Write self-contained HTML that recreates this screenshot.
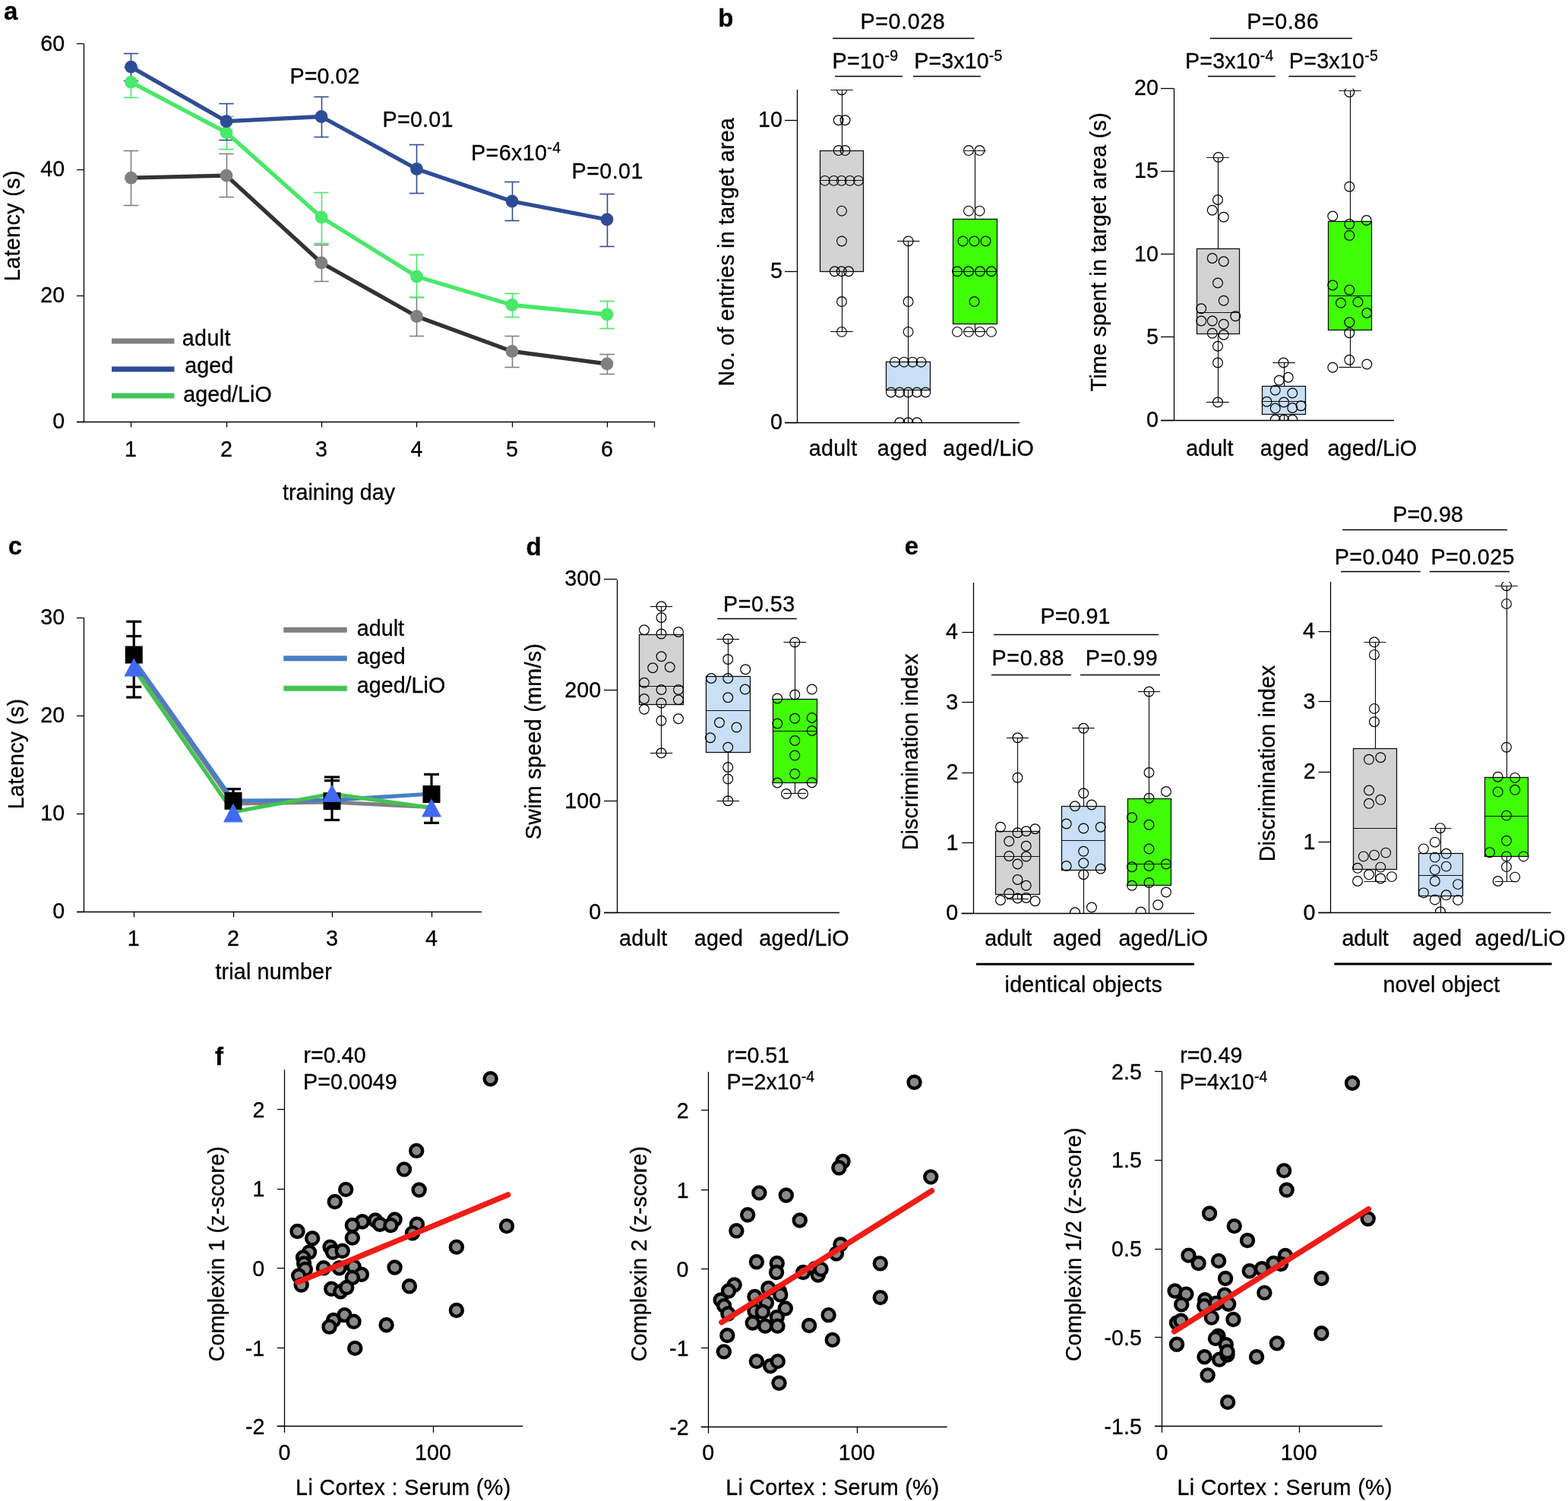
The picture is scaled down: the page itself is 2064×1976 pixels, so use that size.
<!DOCTYPE html>
<html><head><meta charset="utf-8"><title>Figure</title>
<style>
html,body{margin:0;padding:0;background:#fff;}
svg{display:block;}
text{font-family:"Liberation Sans",sans-serif;stroke:#000;stroke-width:0.3px;}
</style></head>
<body>
<svg width="2064" height="1976" viewBox="0 0 2064 1976">
<rect x="0" y="0" width="2064" height="1976" fill="#fff"/>
<text x="4.9" y="25.5" font-size="33" font-weight="bold" fill="#000">a</text>
<text x="945.3" y="34.5" font-size="33" font-weight="bold" fill="#000">b</text>
<text x="10.7" y="730.0" font-size="33" font-weight="bold" fill="#000">c</text>
<text x="692.4" y="730.5" font-size="33" font-weight="bold" fill="#000">d</text>
<text x="1190.7" y="730.0" font-size="33" font-weight="bold" fill="#000">e</text>
<text x="283.0" y="1402.2" font-size="33" font-weight="bold" fill="#000">f</text>
<line x1="110.50" y1="57.50" x2="110.50" y2="555.00" stroke="#000" stroke-width="1.3"/>
<line x1="101.00" y1="57.50" x2="110.00" y2="57.50" stroke="#000" stroke-width="1.3"/>
<text x="53.2" y="66.5" font-size="28.7" fill="#000">60</text>
<line x1="101.00" y1="223.50" x2="110.00" y2="223.50" stroke="#000" stroke-width="1.3"/>
<text x="53.2" y="232.3" font-size="28.7" fill="#000">40</text>
<line x1="101.00" y1="389.50" x2="110.00" y2="389.50" stroke="#000" stroke-width="1.3"/>
<text x="53.2" y="398.2" font-size="28.7" fill="#000">20</text>
<line x1="101.00" y1="555.50" x2="110.00" y2="555.50" stroke="#000" stroke-width="1.3"/>
<text x="69.2" y="564.0" font-size="28.7" fill="#000">0</text>
<line x1="101.00" y1="555.50" x2="861.00" y2="555.50" stroke="#000" stroke-width="1.3"/>
<line x1="172.50" y1="555.00" x2="172.50" y2="562.50" stroke="#000" stroke-width="1.3"/>
<line x1="298.50" y1="555.00" x2="298.50" y2="562.50" stroke="#000" stroke-width="1.3"/>
<line x1="423.50" y1="555.00" x2="423.50" y2="562.50" stroke="#000" stroke-width="1.3"/>
<line x1="548.50" y1="555.00" x2="548.50" y2="562.50" stroke="#000" stroke-width="1.3"/>
<line x1="674.50" y1="555.00" x2="674.50" y2="562.50" stroke="#000" stroke-width="1.3"/>
<line x1="799.50" y1="555.00" x2="799.50" y2="562.50" stroke="#000" stroke-width="1.3"/>
<line x1="861.50" y1="555.00" x2="861.50" y2="562.50" stroke="#000" stroke-width="1.3"/>
<text x="164.1" y="600.5" font-size="28.7" fill="#000">1</text>
<text x="290.1" y="600.5" font-size="28.7" fill="#000">2</text>
<text x="415.1" y="600.5" font-size="28.7" fill="#000">3</text>
<text x="540.6" y="600.5" font-size="28.7" fill="#000">4</text>
<text x="666.0" y="600.5" font-size="28.7" fill="#000">5</text>
<text x="790.9" y="600.5" font-size="28.7" fill="#000">6</text>
<text x="372.1" y="657.5" font-size="28.7" textLength="147.97" lengthAdjust="spacing" fill="#000">training day</text>
<text transform="translate(25.9,367.9) rotate(-90)" x="-2.4" y="0" font-size="28.7" textLength="145.76" lengthAdjust="spacing">Latency (s)</text>
<line x1="172.50" y1="198.20" x2="172.50" y2="270.00" stroke="#808080" stroke-width="1.6"/>
<line x1="162.80" y1="198.50" x2="182.20" y2="198.50" stroke="#808080" stroke-width="1.6"/>
<line x1="162.80" y1="270.50" x2="182.20" y2="270.50" stroke="#808080" stroke-width="1.6"/>
<line x1="298.50" y1="202.30" x2="298.50" y2="259.50" stroke="#808080" stroke-width="1.6"/>
<line x1="288.30" y1="202.50" x2="307.70" y2="202.50" stroke="#808080" stroke-width="1.6"/>
<line x1="288.30" y1="259.50" x2="307.70" y2="259.50" stroke="#808080" stroke-width="1.6"/>
<line x1="423.50" y1="322.50" x2="423.50" y2="370.00" stroke="#808080" stroke-width="1.6"/>
<line x1="413.30" y1="322.50" x2="432.70" y2="322.50" stroke="#808080" stroke-width="1.6"/>
<line x1="413.30" y1="370.50" x2="432.70" y2="370.50" stroke="#808080" stroke-width="1.6"/>
<line x1="548.50" y1="391.50" x2="548.50" y2="442.00" stroke="#808080" stroke-width="1.6"/>
<line x1="538.80" y1="391.50" x2="558.20" y2="391.50" stroke="#808080" stroke-width="1.6"/>
<line x1="538.80" y1="442.50" x2="558.20" y2="442.50" stroke="#808080" stroke-width="1.6"/>
<line x1="674.50" y1="442.00" x2="674.50" y2="483.50" stroke="#808080" stroke-width="1.6"/>
<line x1="664.30" y1="442.50" x2="683.70" y2="442.50" stroke="#808080" stroke-width="1.6"/>
<line x1="664.30" y1="483.50" x2="683.70" y2="483.50" stroke="#808080" stroke-width="1.6"/>
<line x1="799.50" y1="466.00" x2="799.50" y2="492.00" stroke="#808080" stroke-width="1.6"/>
<line x1="789.30" y1="466.50" x2="808.70" y2="466.50" stroke="#808080" stroke-width="1.6"/>
<line x1="789.30" y1="492.50" x2="808.70" y2="492.50" stroke="#808080" stroke-width="1.6"/>
<line x1="172.50" y1="88.00" x2="172.50" y2="128.30" stroke="#48e868" stroke-width="1.6"/>
<line x1="162.80" y1="88.50" x2="182.20" y2="88.50" stroke="#48e868" stroke-width="1.6"/>
<line x1="162.80" y1="128.50" x2="182.20" y2="128.50" stroke="#48e868" stroke-width="1.6"/>
<line x1="298.50" y1="153.40" x2="298.50" y2="196.70" stroke="#48e868" stroke-width="1.6"/>
<line x1="288.30" y1="153.50" x2="307.70" y2="153.50" stroke="#48e868" stroke-width="1.6"/>
<line x1="288.30" y1="196.50" x2="307.70" y2="196.50" stroke="#48e868" stroke-width="1.6"/>
<line x1="423.50" y1="253.50" x2="423.50" y2="320.50" stroke="#48e868" stroke-width="1.6"/>
<line x1="413.30" y1="253.50" x2="432.70" y2="253.50" stroke="#48e868" stroke-width="1.6"/>
<line x1="413.30" y1="320.50" x2="432.70" y2="320.50" stroke="#48e868" stroke-width="1.6"/>
<line x1="548.50" y1="335.00" x2="548.50" y2="391.50" stroke="#48e868" stroke-width="1.6"/>
<line x1="538.80" y1="335.50" x2="558.20" y2="335.50" stroke="#48e868" stroke-width="1.6"/>
<line x1="538.80" y1="391.50" x2="558.20" y2="391.50" stroke="#48e868" stroke-width="1.6"/>
<line x1="674.50" y1="386.50" x2="674.50" y2="417.50" stroke="#48e868" stroke-width="1.6"/>
<line x1="664.30" y1="386.50" x2="683.70" y2="386.50" stroke="#48e868" stroke-width="1.6"/>
<line x1="664.30" y1="417.50" x2="683.70" y2="417.50" stroke="#48e868" stroke-width="1.6"/>
<line x1="799.50" y1="396.50" x2="799.50" y2="432.00" stroke="#48e868" stroke-width="1.6"/>
<line x1="789.30" y1="396.50" x2="808.70" y2="396.50" stroke="#48e868" stroke-width="1.6"/>
<line x1="789.30" y1="432.50" x2="808.70" y2="432.50" stroke="#48e868" stroke-width="1.6"/>
<line x1="172.50" y1="70.30" x2="172.50" y2="106.00" stroke="#2e4c96" stroke-width="1.6"/>
<line x1="162.80" y1="70.50" x2="182.20" y2="70.50" stroke="#2e4c96" stroke-width="1.6"/>
<line x1="162.80" y1="106.50" x2="182.20" y2="106.50" stroke="#2e4c96" stroke-width="1.6"/>
<line x1="298.50" y1="136.40" x2="298.50" y2="184.30" stroke="#2e4c96" stroke-width="1.6"/>
<line x1="288.30" y1="136.50" x2="307.70" y2="136.50" stroke="#2e4c96" stroke-width="1.6"/>
<line x1="288.30" y1="184.50" x2="307.70" y2="184.50" stroke="#2e4c96" stroke-width="1.6"/>
<line x1="423.50" y1="127.50" x2="423.50" y2="180.00" stroke="#2e4c96" stroke-width="1.6"/>
<line x1="413.30" y1="127.50" x2="432.70" y2="127.50" stroke="#2e4c96" stroke-width="1.6"/>
<line x1="413.30" y1="180.50" x2="432.70" y2="180.50" stroke="#2e4c96" stroke-width="1.6"/>
<line x1="548.50" y1="190.50" x2="548.50" y2="254.00" stroke="#2e4c96" stroke-width="1.6"/>
<line x1="538.80" y1="190.50" x2="558.20" y2="190.50" stroke="#2e4c96" stroke-width="1.6"/>
<line x1="538.80" y1="254.50" x2="558.20" y2="254.50" stroke="#2e4c96" stroke-width="1.6"/>
<line x1="674.50" y1="239.50" x2="674.50" y2="290.00" stroke="#2e4c96" stroke-width="1.6"/>
<line x1="664.30" y1="239.50" x2="683.70" y2="239.50" stroke="#2e4c96" stroke-width="1.6"/>
<line x1="664.30" y1="290.50" x2="683.70" y2="290.50" stroke="#2e4c96" stroke-width="1.6"/>
<line x1="799.50" y1="255.50" x2="799.50" y2="324.00" stroke="#2e4c96" stroke-width="1.6"/>
<line x1="789.30" y1="255.50" x2="808.70" y2="255.50" stroke="#2e4c96" stroke-width="1.6"/>
<line x1="789.30" y1="324.50" x2="808.70" y2="324.50" stroke="#2e4c96" stroke-width="1.6"/>
<polyline points="172.5,234.2 298.0,231.1 423.0,346.0 548.5,416.5 674.0,462.5 799.0,479.0" fill="none" stroke="#333333" stroke-width="5.3" stroke-linejoin="round"/>
<polyline points="172.5,108.1 298.0,174.4 423.0,286.0 548.5,364.0 674.0,401.5 799.0,414.0" fill="none" stroke="#48e868" stroke-width="5.3" stroke-linejoin="round"/>
<polyline points="172.5,88.1 298.0,159.7 423.0,153.5 548.5,222.5 674.0,265.0 799.0,289.0" fill="none" stroke="#2e4c96" stroke-width="5.3" stroke-linejoin="round"/>
<circle cx="172.50" cy="234.20" r="8.4" fill="#808080" stroke="none" stroke-width="0"/>
<circle cx="298.00" cy="231.10" r="8.4" fill="#808080" stroke="none" stroke-width="0"/>
<circle cx="423.00" cy="346.00" r="8.4" fill="#808080" stroke="none" stroke-width="0"/>
<circle cx="548.50" cy="416.50" r="8.4" fill="#808080" stroke="none" stroke-width="0"/>
<circle cx="674.00" cy="462.50" r="8.4" fill="#808080" stroke="none" stroke-width="0"/>
<circle cx="799.00" cy="479.00" r="8.4" fill="#808080" stroke="none" stroke-width="0"/>
<circle cx="172.50" cy="108.10" r="8.4" fill="#48e868" stroke="none" stroke-width="0"/>
<circle cx="298.00" cy="174.40" r="8.4" fill="#48e868" stroke="none" stroke-width="0"/>
<circle cx="423.00" cy="286.00" r="8.4" fill="#48e868" stroke="none" stroke-width="0"/>
<circle cx="548.50" cy="364.00" r="8.4" fill="#48e868" stroke="none" stroke-width="0"/>
<circle cx="674.00" cy="401.50" r="8.4" fill="#48e868" stroke="none" stroke-width="0"/>
<circle cx="799.00" cy="414.00" r="8.4" fill="#48e868" stroke="none" stroke-width="0"/>
<circle cx="172.50" cy="88.10" r="8.4" fill="#2e4c96" stroke="none" stroke-width="0"/>
<circle cx="298.00" cy="159.70" r="8.4" fill="#2e4c96" stroke="none" stroke-width="0"/>
<circle cx="423.00" cy="153.50" r="8.4" fill="#2e4c96" stroke="none" stroke-width="0"/>
<circle cx="548.50" cy="222.50" r="8.4" fill="#2e4c96" stroke="none" stroke-width="0"/>
<circle cx="674.00" cy="265.00" r="8.4" fill="#2e4c96" stroke="none" stroke-width="0"/>
<circle cx="799.00" cy="289.00" r="8.4" fill="#2e4c96" stroke="none" stroke-width="0"/>
<line x1="147.00" y1="449.00" x2="229.50" y2="449.00" stroke="#808080" stroke-width="7"/>
<line x1="147.00" y1="486.00" x2="229.50" y2="486.00" stroke="#2e4c96" stroke-width="7"/>
<line x1="147.00" y1="521.00" x2="229.50" y2="521.00" stroke="#44c65a" stroke-width="7"/>
<text x="239.8" y="455.0" font-size="28.7" textLength="63.58" lengthAdjust="spacing" fill="#000">adult</text>
<text x="243.3" y="491.0" font-size="28.7" fill="#000">aged</text>
<text x="241.3" y="529.0" font-size="28.7" fill="#000">aged/LiO</text>
<text x="381.5" y="110.0" font-size="28.7" textLength="92.06" lengthAdjust="spacing" fill="#000">P=0.02</text>
<text x="503.6" y="166.5" font-size="28.7" textLength="92.76" lengthAdjust="spacing" fill="#000">P=0.01</text>
<text x="620.1" y="211.0" font-size="28.7" textLength="117.94" lengthAdjust="spacing">P=6x10<tspan font-size="19.5" dy="-10.0">-4</tspan></text>
<text x="752.6" y="235.0" font-size="28.7" textLength="93.76" lengthAdjust="spacing" fill="#000">P=0.01</text>
<line x1="1049.50" y1="118.00" x2="1049.50" y2="556.25" stroke="#000" stroke-width="1.3"/>
<line x1="1033.00" y1="158.50" x2="1049.50" y2="158.50" stroke="#000" stroke-width="1.3"/>
<text x="998.0" y="167.2" font-size="28.7" fill="#000">10</text>
<line x1="1033.00" y1="357.50" x2="1049.50" y2="357.50" stroke="#000" stroke-width="1.3"/>
<text x="1014.0" y="366.2" font-size="28.7" fill="#000">5</text>
<line x1="1033.00" y1="556.50" x2="1049.50" y2="556.50" stroke="#000" stroke-width="1.3"/>
<text x="1014.0" y="565.2" font-size="28.7" fill="#000">0</text>
<line x1="1033.00" y1="556.50" x2="1342.00" y2="556.50" stroke="#000" stroke-width="1.3"/>
<text x="1064.8" y="600.0" font-size="28.7" textLength="63.33" lengthAdjust="spacing" fill="#000">adult</text>
<text x="1154.8" y="600.0" font-size="28.7" textLength="65.79" lengthAdjust="spacing" fill="#000">aged</text>
<text x="1241.3" y="600.0" font-size="28.7" textLength="119.58" lengthAdjust="spacing" fill="#000">aged/LiO</text>
<text transform="translate(965.5,506.0) rotate(-90)" x="-2.4" y="0" font-size="28.7" textLength="353.17" lengthAdjust="spacing">No. of entries in target area</text>
<text x="1132.6" y="38.0" font-size="28.7" textLength="111.12" lengthAdjust="spacing" fill="#000">P=0.028</text>
<line x1="1096.00" y1="50.50" x2="1282.50" y2="50.50" stroke="#000" stroke-width="1.5"/>
<text x="1095.6" y="89.9" font-size="28.7" textLength="86.54" lengthAdjust="spacing">P=10<tspan font-size="19.5" dy="-10.0">-9</tspan></text>
<line x1="1099.00" y1="100.50" x2="1188.00" y2="100.50" stroke="#000" stroke-width="1.5"/>
<text x="1203.3" y="89.9" font-size="28.7" textLength="115.94" lengthAdjust="spacing">P=3x10<tspan font-size="19.5" dy="-10.0">-5</tspan></text>
<line x1="1202.00" y1="100.50" x2="1291.00" y2="100.50" stroke="#000" stroke-width="1.5"/>
<clipPath id="c1"><rect x="1040" y="118" width="360" height="438.25"/></clipPath>
<g clip-path="url(#c1)">
<line x1="1108.50" y1="118.50" x2="1108.50" y2="198.05" stroke="#111" stroke-width="1.2"/>
<line x1="1108.50" y1="357.25" x2="1108.50" y2="436.85" stroke="#111" stroke-width="1.2"/>
<rect x="1079.50" y="198.50" width="57.00" height="159.00" fill="#d3d3d3" stroke="#111" stroke-width="1.3"/>
<line x1="1079.50" y1="237.50" x2="1136.75" y2="237.50" stroke="#111" stroke-width="1.2"/>
<line x1="1093.25" y1="118.50" x2="1122.75" y2="118.50" stroke="#111" stroke-width="1.2"/>
<line x1="1093.25" y1="436.50" x2="1122.75" y2="436.50" stroke="#111" stroke-width="1.2"/>
<circle cx="1108.00" cy="118.45" r="6.4" fill="none" stroke="#000" stroke-width="1.15"/>
<circle cx="1103.75" cy="158.25" r="6.4" fill="none" stroke="#000" stroke-width="1.15"/>
<circle cx="1112.50" cy="158.25" r="6.4" fill="none" stroke="#000" stroke-width="1.15"/>
<circle cx="1103.75" cy="198.05" r="6.4" fill="none" stroke="#000" stroke-width="1.15"/>
<circle cx="1112.50" cy="198.05" r="6.4" fill="none" stroke="#000" stroke-width="1.15"/>
<circle cx="1085.75" cy="237.85" r="6.4" fill="none" stroke="#000" stroke-width="1.15"/>
<circle cx="1097.50" cy="237.85" r="6.4" fill="none" stroke="#000" stroke-width="1.15"/>
<circle cx="1107.75" cy="237.85" r="6.4" fill="none" stroke="#000" stroke-width="1.15"/>
<circle cx="1118.75" cy="237.85" r="6.4" fill="none" stroke="#000" stroke-width="1.15"/>
<circle cx="1130.00" cy="237.85" r="6.4" fill="none" stroke="#000" stroke-width="1.15"/>
<circle cx="1108.00" cy="277.65" r="6.4" fill="none" stroke="#000" stroke-width="1.15"/>
<circle cx="1108.00" cy="317.45" r="6.4" fill="none" stroke="#000" stroke-width="1.15"/>
<circle cx="1098.75" cy="357.25" r="6.4" fill="none" stroke="#000" stroke-width="1.15"/>
<circle cx="1107.75" cy="357.25" r="6.4" fill="none" stroke="#000" stroke-width="1.15"/>
<circle cx="1117.00" cy="357.25" r="6.4" fill="none" stroke="#000" stroke-width="1.15"/>
<circle cx="1108.00" cy="397.05" r="6.4" fill="none" stroke="#000" stroke-width="1.15"/>
<circle cx="1108.00" cy="436.85" r="6.4" fill="none" stroke="#000" stroke-width="1.15"/>
<line x1="1195.50" y1="317.45" x2="1195.50" y2="476.65" stroke="#111" stroke-width="1.2"/>
<line x1="1195.50" y1="513.75" x2="1195.50" y2="556.25" stroke="#111" stroke-width="1.2"/>
<rect x="1166.50" y="476.50" width="58.00" height="37.00" fill="#c9dff5" stroke="#111" stroke-width="1.3"/>
<line x1="1166.75" y1="513.50" x2="1224.50" y2="513.50" stroke="#111" stroke-width="1.2"/>
<line x1="1180.85" y1="317.50" x2="1210.35" y2="317.50" stroke="#111" stroke-width="1.2"/>
<line x1="1180.85" y1="556.50" x2="1210.35" y2="556.50" stroke="#111" stroke-width="1.2"/>
<circle cx="1195.60" cy="317.45" r="6.4" fill="none" stroke="#000" stroke-width="1.15"/>
<circle cx="1195.60" cy="397.05" r="6.4" fill="none" stroke="#000" stroke-width="1.15"/>
<circle cx="1195.60" cy="436.85" r="6.4" fill="none" stroke="#000" stroke-width="1.15"/>
<circle cx="1178.00" cy="476.65" r="6.4" fill="none" stroke="#000" stroke-width="1.15"/>
<circle cx="1190.00" cy="476.65" r="6.4" fill="none" stroke="#000" stroke-width="1.15"/>
<circle cx="1201.25" cy="476.65" r="6.4" fill="none" stroke="#000" stroke-width="1.15"/>
<circle cx="1212.50" cy="476.65" r="6.4" fill="none" stroke="#000" stroke-width="1.15"/>
<circle cx="1173.00" cy="516.45" r="6.4" fill="none" stroke="#000" stroke-width="1.15"/>
<circle cx="1184.25" cy="516.45" r="6.4" fill="none" stroke="#000" stroke-width="1.15"/>
<circle cx="1195.50" cy="516.45" r="6.4" fill="none" stroke="#000" stroke-width="1.15"/>
<circle cx="1207.00" cy="516.45" r="6.4" fill="none" stroke="#000" stroke-width="1.15"/>
<circle cx="1218.25" cy="516.45" r="6.4" fill="none" stroke="#000" stroke-width="1.15"/>
<circle cx="1184.25" cy="556.25" r="6.4" fill="none" stroke="#000" stroke-width="1.15"/>
<circle cx="1195.50" cy="556.25" r="6.4" fill="none" stroke="#000" stroke-width="1.15"/>
<circle cx="1207.00" cy="556.25" r="6.4" fill="none" stroke="#000" stroke-width="1.15"/>
<line x1="1283.50" y1="198.05" x2="1283.50" y2="288.25" stroke="#111" stroke-width="1.2"/>
<line x1="1283.50" y1="426.25" x2="1283.50" y2="436.85" stroke="#111" stroke-width="1.2"/>
<rect x="1254.50" y="288.50" width="58.00" height="138.00" fill="#40fc06" stroke="#111" stroke-width="1.3"/>
<line x1="1254.50" y1="357.50" x2="1312.00" y2="357.50" stroke="#111" stroke-width="1.2"/>
<line x1="1268.50" y1="198.50" x2="1298.00" y2="198.50" stroke="#111" stroke-width="1.2"/>
<line x1="1268.50" y1="436.50" x2="1298.00" y2="436.50" stroke="#111" stroke-width="1.2"/>
<circle cx="1275.00" cy="198.05" r="6.4" fill="none" stroke="#000" stroke-width="1.15"/>
<circle cx="1289.50" cy="198.05" r="6.4" fill="none" stroke="#000" stroke-width="1.15"/>
<circle cx="1275.00" cy="277.65" r="6.4" fill="none" stroke="#000" stroke-width="1.15"/>
<circle cx="1289.50" cy="277.65" r="6.4" fill="none" stroke="#000" stroke-width="1.15"/>
<circle cx="1267.50" cy="317.45" r="6.4" fill="none" stroke="#000" stroke-width="1.15"/>
<circle cx="1282.50" cy="317.45" r="6.4" fill="none" stroke="#000" stroke-width="1.15"/>
<circle cx="1297.50" cy="317.45" r="6.4" fill="none" stroke="#000" stroke-width="1.15"/>
<circle cx="1260.00" cy="357.25" r="6.4" fill="none" stroke="#000" stroke-width="1.15"/>
<circle cx="1275.00" cy="357.25" r="6.4" fill="none" stroke="#000" stroke-width="1.15"/>
<circle cx="1290.00" cy="357.25" r="6.4" fill="none" stroke="#000" stroke-width="1.15"/>
<circle cx="1305.00" cy="357.25" r="6.4" fill="none" stroke="#000" stroke-width="1.15"/>
<circle cx="1282.50" cy="397.05" r="6.4" fill="none" stroke="#000" stroke-width="1.15"/>
<circle cx="1260.00" cy="436.85" r="6.4" fill="none" stroke="#000" stroke-width="1.15"/>
<circle cx="1275.00" cy="436.85" r="6.4" fill="none" stroke="#000" stroke-width="1.15"/>
<circle cx="1290.00" cy="436.85" r="6.4" fill="none" stroke="#000" stroke-width="1.15"/>
<circle cx="1305.00" cy="436.85" r="6.4" fill="none" stroke="#000" stroke-width="1.15"/>
</g>
<line x1="1545.50" y1="116.75" x2="1545.50" y2="553.00" stroke="#000" stroke-width="1.3"/>
<line x1="1528.00" y1="116.50" x2="1545.50" y2="116.50" stroke="#000" stroke-width="1.3"/>
<text x="1493.0" y="125.0" font-size="28.7" fill="#000">20</text>
<line x1="1528.00" y1="225.50" x2="1545.50" y2="225.50" stroke="#000" stroke-width="1.3"/>
<text x="1493.0" y="234.2" font-size="28.7" fill="#000">15</text>
<line x1="1528.00" y1="334.50" x2="1545.50" y2="334.50" stroke="#000" stroke-width="1.3"/>
<text x="1493.0" y="343.5" font-size="28.7" fill="#000">10</text>
<line x1="1528.00" y1="443.50" x2="1545.50" y2="443.50" stroke="#000" stroke-width="1.3"/>
<text x="1509.0" y="452.8" font-size="28.7" fill="#000">5</text>
<line x1="1528.00" y1="553.50" x2="1545.50" y2="553.50" stroke="#000" stroke-width="1.3"/>
<text x="1509.0" y="562.0" font-size="28.7" fill="#000">0</text>
<line x1="1528.00" y1="553.50" x2="1835.00" y2="553.50" stroke="#000" stroke-width="1.3"/>
<text x="1561.3" y="600.0" font-size="28.7" textLength="62.08" lengthAdjust="spacing" fill="#000">adult</text>
<text x="1658.8" y="600.0" font-size="28.7" textLength="64.29" lengthAdjust="spacing" fill="#000">aged</text>
<text x="1747.5" y="600.0" font-size="28.7" textLength="117.58" lengthAdjust="spacing" fill="#000">aged/LiO</text>
<text transform="translate(1455.5,515.0) rotate(-90)" x="-0.6" y="0" font-size="28.7" textLength="367.32" lengthAdjust="spacing">Time spent in target area (s)</text>
<text x="1641.3" y="38.0" font-size="28.7" textLength="94.41" lengthAdjust="spacing" fill="#000">P=0.86</text>
<line x1="1593.00" y1="50.50" x2="1780.00" y2="50.50" stroke="#000" stroke-width="1.5"/>
<text x="1560.1" y="89.9" font-size="28.7" textLength="116.19" lengthAdjust="spacing">P=3x10<tspan font-size="19.5" dy="-10.0">-4</tspan></text>
<line x1="1590.00" y1="100.50" x2="1678.75" y2="100.50" stroke="#000" stroke-width="1.5"/>
<text x="1696.8" y="89.9" font-size="28.7" textLength="116.99" lengthAdjust="spacing">P=3x10<tspan font-size="19.5" dy="-10.0">-5</tspan></text>
<line x1="1696.25" y1="100.50" x2="1784.50" y2="100.50" stroke="#000" stroke-width="1.5"/>
<clipPath id="c2"><rect x="1540" y="116.75" width="360" height="436.25"/></clipPath>
<g clip-path="url(#c2)">
<line x1="1603.50" y1="207.00" x2="1603.50" y2="327.50" stroke="#111" stroke-width="1.2"/>
<line x1="1603.50" y1="439.25" x2="1603.50" y2="529.50" stroke="#111" stroke-width="1.2"/>
<rect x="1575.50" y="327.50" width="56.00" height="112.00" fill="#d3d3d3" stroke="#111" stroke-width="1.3"/>
<line x1="1575.00" y1="411.50" x2="1631.25" y2="411.50" stroke="#111" stroke-width="1.2"/>
<line x1="1588.25" y1="207.50" x2="1617.75" y2="207.50" stroke="#111" stroke-width="1.2"/>
<line x1="1588.25" y1="529.50" x2="1617.75" y2="529.50" stroke="#111" stroke-width="1.2"/>
<circle cx="1603.75" cy="207.00" r="6.4" fill="none" stroke="#000" stroke-width="1.15"/>
<circle cx="1603.00" cy="263.00" r="6.4" fill="none" stroke="#000" stroke-width="1.15"/>
<circle cx="1595.75" cy="276.75" r="6.4" fill="none" stroke="#000" stroke-width="1.15"/>
<circle cx="1610.75" cy="285.75" r="6.4" fill="none" stroke="#000" stroke-width="1.15"/>
<circle cx="1595.75" cy="340.00" r="6.4" fill="none" stroke="#000" stroke-width="1.15"/>
<circle cx="1610.75" cy="344.25" r="6.4" fill="none" stroke="#000" stroke-width="1.15"/>
<circle cx="1603.00" cy="372.50" r="6.4" fill="none" stroke="#000" stroke-width="1.15"/>
<circle cx="1610.75" cy="395.75" r="6.4" fill="none" stroke="#000" stroke-width="1.15"/>
<circle cx="1581.25" cy="406.25" r="6.4" fill="none" stroke="#000" stroke-width="1.15"/>
<circle cx="1626.25" cy="416.25" r="6.4" fill="none" stroke="#000" stroke-width="1.15"/>
<circle cx="1581.25" cy="422.50" r="6.4" fill="none" stroke="#000" stroke-width="1.15"/>
<circle cx="1595.75" cy="422.50" r="6.4" fill="none" stroke="#000" stroke-width="1.15"/>
<circle cx="1610.75" cy="426.75" r="6.4" fill="none" stroke="#000" stroke-width="1.15"/>
<circle cx="1595.75" cy="438.75" r="6.4" fill="none" stroke="#000" stroke-width="1.15"/>
<circle cx="1610.75" cy="440.75" r="6.4" fill="none" stroke="#000" stroke-width="1.15"/>
<circle cx="1603.00" cy="455.75" r="6.4" fill="none" stroke="#000" stroke-width="1.15"/>
<circle cx="1603.00" cy="477.50" r="6.4" fill="none" stroke="#000" stroke-width="1.15"/>
<circle cx="1603.00" cy="529.50" r="6.4" fill="none" stroke="#000" stroke-width="1.15"/>
<line x1="1690.50" y1="477.50" x2="1690.50" y2="508.25" stroke="#111" stroke-width="1.2"/>
<line x1="1690.50" y1="545.00" x2="1690.50" y2="553.00" stroke="#111" stroke-width="1.2"/>
<rect x="1661.50" y="508.50" width="57.00" height="37.00" fill="#c9dff5" stroke="#111" stroke-width="1.3"/>
<line x1="1661.75" y1="528.50" x2="1718.25" y2="528.50" stroke="#111" stroke-width="1.2"/>
<line x1="1675.25" y1="477.50" x2="1704.75" y2="477.50" stroke="#111" stroke-width="1.2"/>
<circle cx="1689.50" cy="477.50" r="6.4" fill="none" stroke="#000" stroke-width="1.15"/>
<circle cx="1695.75" cy="496.75" r="6.4" fill="none" stroke="#000" stroke-width="1.15"/>
<circle cx="1683.75" cy="500.75" r="6.4" fill="none" stroke="#000" stroke-width="1.15"/>
<circle cx="1678.75" cy="513.75" r="6.4" fill="none" stroke="#000" stroke-width="1.15"/>
<circle cx="1701.25" cy="517.50" r="6.4" fill="none" stroke="#000" stroke-width="1.15"/>
<circle cx="1667.50" cy="528.75" r="6.4" fill="none" stroke="#000" stroke-width="1.15"/>
<circle cx="1690.00" cy="529.50" r="6.4" fill="none" stroke="#000" stroke-width="1.15"/>
<circle cx="1712.50" cy="534.25" r="6.4" fill="none" stroke="#000" stroke-width="1.15"/>
<circle cx="1678.75" cy="537.50" r="6.4" fill="none" stroke="#000" stroke-width="1.15"/>
<circle cx="1701.25" cy="537.00" r="6.4" fill="none" stroke="#000" stroke-width="1.15"/>
<circle cx="1678.75" cy="552.50" r="6.4" fill="none" stroke="#000" stroke-width="1.15"/>
<circle cx="1690.00" cy="552.50" r="6.4" fill="none" stroke="#000" stroke-width="1.15"/>
<circle cx="1701.25" cy="552.50" r="6.4" fill="none" stroke="#000" stroke-width="1.15"/>
<line x1="1777.50" y1="119.25" x2="1777.50" y2="291.25" stroke="#111" stroke-width="1.2"/>
<line x1="1777.50" y1="434.25" x2="1777.50" y2="483.25" stroke="#111" stroke-width="1.2"/>
<rect x="1748.50" y="291.50" width="57.00" height="143.00" fill="#40fc06" stroke="#111" stroke-width="1.3"/>
<line x1="1748.00" y1="389.50" x2="1805.50" y2="389.50" stroke="#111" stroke-width="1.2"/>
<line x1="1762.25" y1="119.50" x2="1791.75" y2="119.50" stroke="#111" stroke-width="1.2"/>
<line x1="1762.25" y1="483.50" x2="1791.75" y2="483.50" stroke="#111" stroke-width="1.2"/>
<circle cx="1776.25" cy="121.25" r="6.4" fill="none" stroke="#000" stroke-width="1.15"/>
<circle cx="1776.25" cy="245.75" r="6.4" fill="none" stroke="#000" stroke-width="1.15"/>
<circle cx="1754.25" cy="284.50" r="6.4" fill="none" stroke="#000" stroke-width="1.15"/>
<circle cx="1798.75" cy="290.00" r="6.4" fill="none" stroke="#000" stroke-width="1.15"/>
<circle cx="1776.25" cy="295.00" r="6.4" fill="none" stroke="#000" stroke-width="1.15"/>
<circle cx="1776.25" cy="310.00" r="6.4" fill="none" stroke="#000" stroke-width="1.15"/>
<circle cx="1754.25" cy="375.50" r="6.4" fill="none" stroke="#000" stroke-width="1.15"/>
<circle cx="1776.25" cy="381.75" r="6.4" fill="none" stroke="#000" stroke-width="1.15"/>
<circle cx="1765.00" cy="398.75" r="6.4" fill="none" stroke="#000" stroke-width="1.15"/>
<circle cx="1787.50" cy="397.50" r="6.4" fill="none" stroke="#000" stroke-width="1.15"/>
<circle cx="1799.25" cy="412.00" r="6.4" fill="none" stroke="#000" stroke-width="1.15"/>
<circle cx="1776.25" cy="424.25" r="6.4" fill="none" stroke="#000" stroke-width="1.15"/>
<circle cx="1776.25" cy="438.25" r="6.4" fill="none" stroke="#000" stroke-width="1.15"/>
<circle cx="1776.25" cy="473.75" r="6.4" fill="none" stroke="#000" stroke-width="1.15"/>
<circle cx="1754.25" cy="483.75" r="6.4" fill="none" stroke="#000" stroke-width="1.15"/>
<circle cx="1799.25" cy="479.50" r="6.4" fill="none" stroke="#000" stroke-width="1.15"/>
</g>
<line x1="110.50" y1="813.25" x2="110.50" y2="1200.00" stroke="#000" stroke-width="1.3"/>
<line x1="101.00" y1="813.50" x2="110.00" y2="813.50" stroke="#000" stroke-width="1.3"/>
<text x="53.2" y="822.3" font-size="28.7" fill="#000">30</text>
<line x1="101.00" y1="942.50" x2="110.00" y2="942.50" stroke="#000" stroke-width="1.3"/>
<text x="53.2" y="951.2" font-size="28.7" fill="#000">20</text>
<line x1="101.00" y1="1071.50" x2="110.00" y2="1071.50" stroke="#000" stroke-width="1.3"/>
<text x="53.2" y="1080.1" font-size="28.7" fill="#000">10</text>
<line x1="101.00" y1="1200.50" x2="110.00" y2="1200.50" stroke="#000" stroke-width="1.3"/>
<text x="69.2" y="1209.0" font-size="28.7" fill="#000">0</text>
<line x1="101.00" y1="1200.50" x2="634.00" y2="1200.50" stroke="#000" stroke-width="1.3"/>
<line x1="176.50" y1="1200.00" x2="176.50" y2="1207.50" stroke="#000" stroke-width="1.3"/>
<line x1="307.50" y1="1200.00" x2="307.50" y2="1207.50" stroke="#000" stroke-width="1.3"/>
<line x1="437.50" y1="1200.00" x2="437.50" y2="1207.50" stroke="#000" stroke-width="1.3"/>
<line x1="568.50" y1="1200.00" x2="568.50" y2="1207.50" stroke="#000" stroke-width="1.3"/>
<text x="167.8" y="1245.0" font-size="28.7" fill="#000">1</text>
<text x="299.1" y="1245.0" font-size="28.7" fill="#000">2</text>
<text x="429.1" y="1245.0" font-size="28.7" fill="#000">3</text>
<text x="560.1" y="1245.0" font-size="28.7" fill="#000">4</text>
<text x="283.4" y="1288.8" font-size="28.7" textLength="153.33" lengthAdjust="spacing" fill="#000">trial number</text>
<text transform="translate(30.7,1062.9) rotate(-90)" x="-2.4" y="0" font-size="28.7" textLength="145.26" lengthAdjust="spacing">Latency (s)</text>
<line x1="373.25" y1="829.25" x2="456.75" y2="829.25" stroke="#808080" stroke-width="7"/>
<line x1="373.25" y1="866.75" x2="456.75" y2="866.75" stroke="#4a7cc9" stroke-width="7"/>
<line x1="373.25" y1="906.25" x2="456.75" y2="906.25" stroke="#43c352" stroke-width="7"/>
<text x="469.8" y="836.5" font-size="28.7" fill="#000">adult</text>
<text x="469.8" y="874.0" font-size="28.7" fill="#000">aged</text>
<text x="469.8" y="911.5" font-size="28.7" fill="#000">aged/LiO</text>
<line x1="176.25" y1="818.25" x2="176.25" y2="918.00" stroke="#000" stroke-width="3.2"/>
<line x1="166.25" y1="818.25" x2="186.25" y2="818.25" stroke="#000" stroke-width="3.2"/>
<line x1="166.25" y1="918.00" x2="186.25" y2="918.00" stroke="#000" stroke-width="3.2"/>
<line x1="166.25" y1="837.50" x2="186.25" y2="837.50" stroke="#000" stroke-width="3.2"/>
<line x1="166.25" y1="904.25" x2="186.25" y2="904.25" stroke="#000" stroke-width="3.2"/>
<line x1="307.00" y1="1038.70" x2="307.00" y2="1060.00" stroke="#000" stroke-width="3.2"/>
<line x1="297.00" y1="1038.70" x2="317.00" y2="1038.70" stroke="#000" stroke-width="3.2"/>
<line x1="297.00" y1="1060.00" x2="317.00" y2="1060.00" stroke="#000" stroke-width="3.2"/>
<line x1="437.00" y1="1023.00" x2="437.00" y2="1079.50" stroke="#000" stroke-width="3.2"/>
<line x1="427.00" y1="1023.00" x2="447.00" y2="1023.00" stroke="#000" stroke-width="3.2"/>
<line x1="427.00" y1="1079.50" x2="447.00" y2="1079.50" stroke="#000" stroke-width="3.2"/>
<line x1="427.00" y1="1027.70" x2="447.00" y2="1027.70" stroke="#000" stroke-width="3.2"/>
<line x1="568.00" y1="1019.40" x2="568.00" y2="1083.30" stroke="#000" stroke-width="3.2"/>
<line x1="558.00" y1="1019.40" x2="578.00" y2="1019.40" stroke="#000" stroke-width="3.2"/>
<line x1="558.00" y1="1083.30" x2="578.00" y2="1083.30" stroke="#000" stroke-width="3.2"/>
<polyline points="176.2,872.0 307.0,1058.0 437.0,1056.0 568.0,1062.5" fill="none" stroke="#808080" stroke-width="5.2" stroke-linejoin="round"/>
<polyline points="176.2,869.0 307.0,1054.0 437.0,1053.4 568.0,1045.0" fill="none" stroke="#4a7cc9" stroke-width="5.2" stroke-linejoin="round"/>
<polyline points="176.2,880.0 307.0,1069.0 437.0,1045.0 568.0,1063.5" fill="none" stroke="#43c352" stroke-width="5.2" stroke-linejoin="round"/>
<rect x="164.75" y="850.50" width="23" height="23" fill="#000"/>
<rect x="295.50" y="1042.80" width="23" height="23" fill="#000"/>
<rect x="425.50" y="1043.20" width="23" height="23" fill="#000"/>
<rect x="556.50" y="1034.00" width="23" height="23" fill="#000"/>
<polygon points="176.25,867.50 164.25,890.00 188.25,890.00" fill="#4169f0" stroke="#4169f0" stroke-width="1.2" stroke-linejoin="round"/>
<polygon points="307.00,1058.90 295.00,1081.80 319.00,1081.80" fill="#4169f0" stroke="#4169f0" stroke-width="1.2" stroke-linejoin="round"/>
<polygon points="437.00,1034.00 425.00,1055.20 449.00,1055.20" fill="#4169f0" stroke="#4169f0" stroke-width="1.2" stroke-linejoin="round"/>
<polygon points="568.00,1052.50 556.00,1074.90 580.00,1074.90" fill="#4169f0" stroke="#4169f0" stroke-width="1.2" stroke-linejoin="round"/>
<line x1="812.50" y1="763.25" x2="812.50" y2="1201.25" stroke="#000" stroke-width="1.3"/>
<line x1="795.00" y1="762.50" x2="812.00" y2="762.50" stroke="#000" stroke-width="1.3"/>
<text x="743.3" y="771.3" font-size="28.7" fill="#000">300</text>
<line x1="795.00" y1="908.50" x2="812.00" y2="908.50" stroke="#000" stroke-width="1.3"/>
<text x="743.3" y="917.6" font-size="28.7" fill="#000">200</text>
<line x1="795.00" y1="1054.50" x2="812.00" y2="1054.50" stroke="#000" stroke-width="1.3"/>
<text x="743.3" y="1063.9" font-size="28.7" fill="#000">100</text>
<line x1="795.00" y1="1201.50" x2="812.00" y2="1201.50" stroke="#000" stroke-width="1.3"/>
<text x="775.2" y="1210.2" font-size="28.7" fill="#000">0</text>
<line x1="795.00" y1="1201.50" x2="1105.00" y2="1201.50" stroke="#000" stroke-width="1.3"/>
<text x="815.0" y="1245.0" font-size="28.7" textLength="63.33" lengthAdjust="spacing" fill="#000">adult</text>
<text x="913.8" y="1245.0" font-size="28.7" textLength="64.29" lengthAdjust="spacing" fill="#000">aged</text>
<text x="999.3" y="1245.0" font-size="28.7" textLength="118.33" lengthAdjust="spacing" fill="#000">aged/LiO</text>
<text transform="translate(711.6,1103.9) rotate(-90)" x="-1.3" y="0" font-size="28.7" textLength="258.05" lengthAdjust="spacing">Swim speed (mm/s)</text>
<text x="952.1" y="805.0" font-size="28.7" textLength="94.16" lengthAdjust="spacing" fill="#000">P=0.53</text>
<line x1="944.25" y1="814.50" x2="1048.75" y2="814.50" stroke="#000" stroke-width="1.5"/>
<line x1="870.50" y1="798.25" x2="870.50" y2="835.00" stroke="#111" stroke-width="1.2"/>
<line x1="870.50" y1="927.00" x2="870.50" y2="991.25" stroke="#111" stroke-width="1.2"/>
<rect x="841.50" y="835.50" width="58.00" height="92.00" fill="#d3d3d3" stroke="#111" stroke-width="1.3"/>
<line x1="841.75" y1="903.50" x2="899.25" y2="903.50" stroke="#111" stroke-width="1.2"/>
<line x1="855.75" y1="798.50" x2="885.25" y2="798.50" stroke="#111" stroke-width="1.2"/>
<line x1="855.75" y1="991.50" x2="885.25" y2="991.50" stroke="#111" stroke-width="1.2"/>
<circle cx="870.50" cy="798.25" r="6.4" fill="none" stroke="#000" stroke-width="1.15"/>
<circle cx="870.50" cy="813.00" r="6.4" fill="none" stroke="#000" stroke-width="1.15"/>
<circle cx="848.00" cy="829.25" r="6.4" fill="none" stroke="#000" stroke-width="1.15"/>
<circle cx="870.50" cy="834.50" r="6.4" fill="none" stroke="#000" stroke-width="1.15"/>
<circle cx="893.00" cy="832.00" r="6.4" fill="none" stroke="#000" stroke-width="1.15"/>
<circle cx="870.50" cy="864.25" r="6.4" fill="none" stroke="#000" stroke-width="1.15"/>
<circle cx="859.25" cy="879.25" r="6.4" fill="none" stroke="#000" stroke-width="1.15"/>
<circle cx="881.75" cy="878.25" r="6.4" fill="none" stroke="#000" stroke-width="1.15"/>
<circle cx="848.00" cy="898.75" r="6.4" fill="none" stroke="#000" stroke-width="1.15"/>
<circle cx="870.50" cy="908.00" r="6.4" fill="none" stroke="#000" stroke-width="1.15"/>
<circle cx="893.00" cy="908.00" r="6.4" fill="none" stroke="#000" stroke-width="1.15"/>
<circle cx="848.00" cy="920.00" r="6.4" fill="none" stroke="#000" stroke-width="1.15"/>
<circle cx="893.00" cy="921.25" r="6.4" fill="none" stroke="#000" stroke-width="1.15"/>
<circle cx="870.50" cy="925.50" r="6.4" fill="none" stroke="#000" stroke-width="1.15"/>
<circle cx="848.00" cy="933.75" r="6.4" fill="none" stroke="#000" stroke-width="1.15"/>
<circle cx="870.50" cy="948.75" r="6.4" fill="none" stroke="#000" stroke-width="1.15"/>
<circle cx="893.00" cy="946.25" r="6.4" fill="none" stroke="#000" stroke-width="1.15"/>
<circle cx="870.50" cy="991.25" r="6.4" fill="none" stroke="#000" stroke-width="1.15"/>
<line x1="958.50" y1="841.25" x2="958.50" y2="890.00" stroke="#111" stroke-width="1.2"/>
<line x1="958.50" y1="990.00" x2="958.50" y2="1054.50" stroke="#111" stroke-width="1.2"/>
<rect x="929.50" y="890.50" width="58.00" height="100.00" fill="#c9dff5" stroke="#111" stroke-width="1.3"/>
<line x1="929.50" y1="935.50" x2="987.50" y2="935.50" stroke="#111" stroke-width="1.2"/>
<line x1="943.50" y1="841.50" x2="973.00" y2="841.50" stroke="#111" stroke-width="1.2"/>
<line x1="943.50" y1="1054.50" x2="973.00" y2="1054.50" stroke="#111" stroke-width="1.2"/>
<circle cx="958.25" cy="841.25" r="6.4" fill="none" stroke="#000" stroke-width="1.15"/>
<circle cx="958.25" cy="868.00" r="6.4" fill="none" stroke="#000" stroke-width="1.15"/>
<circle cx="981.25" cy="881.25" r="6.4" fill="none" stroke="#000" stroke-width="1.15"/>
<circle cx="936.25" cy="893.00" r="6.4" fill="none" stroke="#000" stroke-width="1.15"/>
<circle cx="958.25" cy="893.00" r="6.4" fill="none" stroke="#000" stroke-width="1.15"/>
<circle cx="980.75" cy="907.50" r="6.4" fill="none" stroke="#000" stroke-width="1.15"/>
<circle cx="958.25" cy="918.25" r="6.4" fill="none" stroke="#000" stroke-width="1.15"/>
<circle cx="947.00" cy="951.25" r="6.4" fill="none" stroke="#000" stroke-width="1.15"/>
<circle cx="969.50" cy="957.50" r="6.4" fill="none" stroke="#000" stroke-width="1.15"/>
<circle cx="935.00" cy="971.25" r="6.4" fill="none" stroke="#000" stroke-width="1.15"/>
<circle cx="958.25" cy="983.75" r="6.4" fill="none" stroke="#000" stroke-width="1.15"/>
<circle cx="958.25" cy="1010.00" r="6.4" fill="none" stroke="#000" stroke-width="1.15"/>
<circle cx="958.25" cy="1025.50" r="6.4" fill="none" stroke="#000" stroke-width="1.15"/>
<circle cx="958.25" cy="1054.25" r="6.4" fill="none" stroke="#000" stroke-width="1.15"/>
<line x1="1046.50" y1="845.50" x2="1046.50" y2="920.50" stroke="#111" stroke-width="1.2"/>
<line x1="1046.50" y1="1030.00" x2="1046.50" y2="1044.50" stroke="#111" stroke-width="1.2"/>
<rect x="1017.50" y="920.50" width="58.00" height="110.00" fill="#40fc06" stroke="#111" stroke-width="1.3"/>
<line x1="1017.00" y1="962.50" x2="1075.00" y2="962.50" stroke="#111" stroke-width="1.2"/>
<line x1="1031.50" y1="845.50" x2="1061.00" y2="845.50" stroke="#111" stroke-width="1.2"/>
<line x1="1031.50" y1="1044.50" x2="1061.00" y2="1044.50" stroke="#111" stroke-width="1.2"/>
<circle cx="1046.25" cy="845.50" r="6.4" fill="none" stroke="#000" stroke-width="1.15"/>
<circle cx="1068.75" cy="907.50" r="6.4" fill="none" stroke="#000" stroke-width="1.15"/>
<circle cx="1046.25" cy="914.50" r="6.4" fill="none" stroke="#000" stroke-width="1.15"/>
<circle cx="1023.25" cy="919.50" r="6.4" fill="none" stroke="#000" stroke-width="1.15"/>
<circle cx="1046.25" cy="945.75" r="6.4" fill="none" stroke="#000" stroke-width="1.15"/>
<circle cx="1068.75" cy="945.00" r="6.4" fill="none" stroke="#000" stroke-width="1.15"/>
<circle cx="1023.25" cy="952.50" r="6.4" fill="none" stroke="#000" stroke-width="1.15"/>
<circle cx="1068.75" cy="962.00" r="6.4" fill="none" stroke="#000" stroke-width="1.15"/>
<circle cx="1046.25" cy="975.00" r="6.4" fill="none" stroke="#000" stroke-width="1.15"/>
<circle cx="1046.25" cy="994.50" r="6.4" fill="none" stroke="#000" stroke-width="1.15"/>
<circle cx="1046.25" cy="1018.75" r="6.4" fill="none" stroke="#000" stroke-width="1.15"/>
<circle cx="1023.25" cy="1030.50" r="6.4" fill="none" stroke="#000" stroke-width="1.15"/>
<circle cx="1068.75" cy="1030.25" r="6.4" fill="none" stroke="#000" stroke-width="1.15"/>
<circle cx="1035.00" cy="1045.00" r="6.4" fill="none" stroke="#000" stroke-width="1.15"/>
<circle cx="1057.00" cy="1045.00" r="6.4" fill="none" stroke="#000" stroke-width="1.15"/>
<line x1="1281.50" y1="767.00" x2="1281.50" y2="1202.00" stroke="#000" stroke-width="1.3"/>
<line x1="1266.25" y1="832.50" x2="1281.25" y2="832.50" stroke="#000" stroke-width="1.3"/>
<text x="1244.9" y="841.4" font-size="28.7" fill="#000">4</text>
<line x1="1266.25" y1="924.50" x2="1281.25" y2="924.50" stroke="#000" stroke-width="1.3"/>
<text x="1245.3" y="933.8" font-size="28.7" fill="#000">3</text>
<line x1="1266.25" y1="1017.50" x2="1281.25" y2="1017.50" stroke="#000" stroke-width="1.3"/>
<text x="1245.5" y="1026.2" font-size="28.7" fill="#000">2</text>
<line x1="1266.25" y1="1109.50" x2="1281.25" y2="1109.50" stroke="#000" stroke-width="1.3"/>
<text x="1245.4" y="1118.6" font-size="28.7" fill="#000">1</text>
<line x1="1266.25" y1="1202.50" x2="1281.25" y2="1202.50" stroke="#000" stroke-width="1.3"/>
<text x="1245.2" y="1211.0" font-size="28.7" fill="#000">0</text>
<line x1="1265.50" y1="1202.50" x2="1572.00" y2="1202.50" stroke="#000" stroke-width="1.3"/>
<text x="1296.3" y="1245.0" font-size="28.7" textLength="61.83" lengthAdjust="spacing" fill="#000">adult</text>
<text x="1385.8" y="1245.0" font-size="28.7" textLength="64.29" lengthAdjust="spacing" fill="#000">aged</text>
<text x="1472.5" y="1245.0" font-size="28.7" textLength="117.58" lengthAdjust="spacing" fill="#000">aged/LiO</text>
<line x1="1285.00" y1="1269.25" x2="1572.00" y2="1269.25" stroke="#000" stroke-width="3.2"/>
<text x="1322.6" y="1306.2" font-size="28.7" textLength="207.15" lengthAdjust="spacing" fill="#000">identical objects</text>
<text transform="translate(1207.7,1116.8) rotate(-90)" x="-2.4" y="0" font-size="28.7" textLength="258.80" lengthAdjust="spacing">Discrimination index</text>
<text x="1369.6" y="820.5" font-size="28.7" textLength="91.76" lengthAdjust="spacing" fill="#000">P=0.91</text>
<line x1="1308.00" y1="835.50" x2="1525.00" y2="835.50" stroke="#000" stroke-width="1.5"/>
<text x="1305.6" y="876.2" font-size="28.7" textLength="94.91" lengthAdjust="spacing" fill="#000">P=0.88</text>
<line x1="1305.00" y1="888.50" x2="1410.00" y2="888.50" stroke="#000" stroke-width="1.5"/>
<text x="1428.8" y="876.2" font-size="28.7" textLength="95.01" lengthAdjust="spacing" fill="#000">P=0.99</text>
<line x1="1422.00" y1="888.50" x2="1527.00" y2="888.50" stroke="#000" stroke-width="1.5"/>
<clipPath id="c3"><rect x="1270" y="767" width="330" height="435"/></clipPath>
<g clip-path="url(#c3)">
<line x1="1339.50" y1="971.25" x2="1339.50" y2="1094.50" stroke="#111" stroke-width="1.2"/>
<line x1="1339.50" y1="1177.00" x2="1339.50" y2="1183.75" stroke="#111" stroke-width="1.2"/>
<rect x="1310.50" y="1094.50" width="58.00" height="83.00" fill="#d3d3d3" stroke="#111" stroke-width="1.3"/>
<line x1="1310.75" y1="1127.50" x2="1368.25" y2="1127.50" stroke="#111" stroke-width="1.2"/>
<line x1="1325.12" y1="971.50" x2="1353.88" y2="971.50" stroke="#111" stroke-width="1.2"/>
<line x1="1325.12" y1="1183.50" x2="1353.88" y2="1183.50" stroke="#111" stroke-width="1.2"/>
<circle cx="1339.50" cy="971.25" r="6.4" fill="none" stroke="#000" stroke-width="1.15"/>
<circle cx="1339.50" cy="1023.75" r="6.4" fill="none" stroke="#000" stroke-width="1.15"/>
<circle cx="1317.00" cy="1088.75" r="6.4" fill="none" stroke="#000" stroke-width="1.15"/>
<circle cx="1339.50" cy="1096.25" r="6.4" fill="none" stroke="#000" stroke-width="1.15"/>
<circle cx="1350.75" cy="1094.25" r="6.4" fill="none" stroke="#000" stroke-width="1.15"/>
<circle cx="1362.50" cy="1091.25" r="6.4" fill="none" stroke="#000" stroke-width="1.15"/>
<circle cx="1328.25" cy="1107.50" r="6.4" fill="none" stroke="#000" stroke-width="1.15"/>
<circle cx="1350.75" cy="1113.75" r="6.4" fill="none" stroke="#000" stroke-width="1.15"/>
<circle cx="1328.25" cy="1127.00" r="6.4" fill="none" stroke="#000" stroke-width="1.15"/>
<circle cx="1350.75" cy="1127.50" r="6.4" fill="none" stroke="#000" stroke-width="1.15"/>
<circle cx="1339.50" cy="1137.50" r="6.4" fill="none" stroke="#000" stroke-width="1.15"/>
<circle cx="1339.50" cy="1158.00" r="6.4" fill="none" stroke="#000" stroke-width="1.15"/>
<circle cx="1350.75" cy="1165.75" r="6.4" fill="none" stroke="#000" stroke-width="1.15"/>
<circle cx="1328.25" cy="1176.25" r="6.4" fill="none" stroke="#000" stroke-width="1.15"/>
<circle cx="1339.50" cy="1182.50" r="6.4" fill="none" stroke="#000" stroke-width="1.15"/>
<circle cx="1350.75" cy="1182.00" r="6.4" fill="none" stroke="#000" stroke-width="1.15"/>
<circle cx="1317.00" cy="1185.00" r="6.4" fill="none" stroke="#000" stroke-width="1.15"/>
<circle cx="1362.50" cy="1186.25" r="6.4" fill="none" stroke="#000" stroke-width="1.15"/>
<line x1="1426.50" y1="958.25" x2="1426.50" y2="1061.25" stroke="#111" stroke-width="1.2"/>
<line x1="1426.50" y1="1145.00" x2="1426.50" y2="1202.00" stroke="#111" stroke-width="1.2"/>
<rect x="1397.50" y="1061.50" width="57.00" height="84.00" fill="#c9dff5" stroke="#111" stroke-width="1.3"/>
<line x1="1397.50" y1="1106.50" x2="1454.50" y2="1106.50" stroke="#111" stroke-width="1.2"/>
<line x1="1411.25" y1="958.50" x2="1440.75" y2="958.50" stroke="#111" stroke-width="1.2"/>
<circle cx="1426.25" cy="958.75" r="6.4" fill="none" stroke="#000" stroke-width="1.15"/>
<circle cx="1426.25" cy="1044.25" r="6.4" fill="none" stroke="#000" stroke-width="1.15"/>
<circle cx="1415.00" cy="1061.25" r="6.4" fill="none" stroke="#000" stroke-width="1.15"/>
<circle cx="1437.00" cy="1059.50" r="6.4" fill="none" stroke="#000" stroke-width="1.15"/>
<circle cx="1403.75" cy="1084.50" r="6.4" fill="none" stroke="#000" stroke-width="1.15"/>
<circle cx="1426.25" cy="1090.50" r="6.4" fill="none" stroke="#000" stroke-width="1.15"/>
<circle cx="1448.75" cy="1088.75" r="6.4" fill="none" stroke="#000" stroke-width="1.15"/>
<circle cx="1426.25" cy="1120.75" r="6.4" fill="none" stroke="#000" stroke-width="1.15"/>
<circle cx="1426.25" cy="1136.25" r="6.4" fill="none" stroke="#000" stroke-width="1.15"/>
<circle cx="1403.75" cy="1140.00" r="6.4" fill="none" stroke="#000" stroke-width="1.15"/>
<circle cx="1448.75" cy="1143.75" r="6.4" fill="none" stroke="#000" stroke-width="1.15"/>
<circle cx="1426.25" cy="1151.25" r="6.4" fill="none" stroke="#000" stroke-width="1.15"/>
<circle cx="1437.00" cy="1194.50" r="6.4" fill="none" stroke="#000" stroke-width="1.15"/>
<circle cx="1415.00" cy="1201.25" r="6.4" fill="none" stroke="#000" stroke-width="1.15"/>
<line x1="1512.50" y1="910.50" x2="1512.50" y2="1051.75" stroke="#111" stroke-width="1.2"/>
<line x1="1512.50" y1="1165.50" x2="1512.50" y2="1202.00" stroke="#111" stroke-width="1.2"/>
<rect x="1484.50" y="1051.50" width="57.00" height="114.00" fill="#40fc06" stroke="#111" stroke-width="1.3"/>
<line x1="1484.50" y1="1137.50" x2="1541.25" y2="1137.50" stroke="#111" stroke-width="1.2"/>
<line x1="1497.88" y1="910.50" x2="1527.12" y2="910.50" stroke="#111" stroke-width="1.2"/>
<circle cx="1512.50" cy="910.50" r="6.4" fill="none" stroke="#000" stroke-width="1.15"/>
<circle cx="1512.50" cy="1017.00" r="6.4" fill="none" stroke="#000" stroke-width="1.15"/>
<circle cx="1535.00" cy="1042.00" r="6.4" fill="none" stroke="#000" stroke-width="1.15"/>
<circle cx="1512.50" cy="1050.75" r="6.4" fill="none" stroke="#000" stroke-width="1.15"/>
<circle cx="1490.00" cy="1076.25" r="6.4" fill="none" stroke="#000" stroke-width="1.15"/>
<circle cx="1512.50" cy="1085.75" r="6.4" fill="none" stroke="#000" stroke-width="1.15"/>
<circle cx="1512.50" cy="1117.50" r="6.4" fill="none" stroke="#000" stroke-width="1.15"/>
<circle cx="1490.00" cy="1141.25" r="6.4" fill="none" stroke="#000" stroke-width="1.15"/>
<circle cx="1512.50" cy="1140.00" r="6.4" fill="none" stroke="#000" stroke-width="1.15"/>
<circle cx="1535.00" cy="1137.50" r="6.4" fill="none" stroke="#000" stroke-width="1.15"/>
<circle cx="1512.50" cy="1162.00" r="6.4" fill="none" stroke="#000" stroke-width="1.15"/>
<circle cx="1490.00" cy="1165.75" r="6.4" fill="none" stroke="#000" stroke-width="1.15"/>
<circle cx="1535.00" cy="1174.50" r="6.4" fill="none" stroke="#000" stroke-width="1.15"/>
<circle cx="1524.25" cy="1191.25" r="6.4" fill="none" stroke="#000" stroke-width="1.15"/>
<circle cx="1501.75" cy="1200.50" r="6.4" fill="none" stroke="#000" stroke-width="1.15"/>
</g>
<line x1="1751.50" y1="766.00" x2="1751.50" y2="1201.50" stroke="#000" stroke-width="1.3"/>
<line x1="1735.40" y1="831.50" x2="1751.50" y2="831.50" stroke="#000" stroke-width="1.3"/>
<text x="1715.1" y="840.1" font-size="28.7" fill="#000">4</text>
<line x1="1735.40" y1="923.50" x2="1751.50" y2="923.50" stroke="#000" stroke-width="1.3"/>
<text x="1715.5" y="932.7" font-size="28.7" fill="#000">3</text>
<line x1="1735.40" y1="1016.50" x2="1751.50" y2="1016.50" stroke="#000" stroke-width="1.3"/>
<text x="1715.7" y="1025.3" font-size="28.7" fill="#000">2</text>
<line x1="1735.40" y1="1108.50" x2="1751.50" y2="1108.50" stroke="#000" stroke-width="1.3"/>
<text x="1715.6" y="1117.9" font-size="28.7" fill="#000">1</text>
<line x1="1735.40" y1="1201.50" x2="1751.50" y2="1201.50" stroke="#000" stroke-width="1.3"/>
<text x="1715.4" y="1210.5" font-size="28.7" fill="#000">0</text>
<line x1="1735.40" y1="1201.50" x2="2041.50" y2="1201.50" stroke="#000" stroke-width="1.3"/>
<text x="1766.4" y="1244.8" font-size="28.7" textLength="61.43" lengthAdjust="spacing" fill="#000">adult</text>
<text x="1859.2" y="1244.8" font-size="28.7" textLength="65.04" lengthAdjust="spacing" fill="#000">aged</text>
<text x="1941.4" y="1244.8" font-size="28.7" textLength="119.28" lengthAdjust="spacing" fill="#000">aged/LiO</text>
<line x1="1756.30" y1="1269.00" x2="2042.70" y2="1269.00" stroke="#000" stroke-width="3.2"/>
<text x="1820.6" y="1305.6" font-size="28.7" textLength="153.57" lengthAdjust="spacing" fill="#000">novel object</text>
<text transform="translate(1677.8,1131.8) rotate(-90)" x="-2.4" y="0" font-size="28.7" textLength="258.60" lengthAdjust="spacing">Discrimination index</text>
<text x="1833.2" y="687.4" font-size="28.7" textLength="92.86" lengthAdjust="spacing" fill="#000">P=0.98</text>
<line x1="1766.90" y1="697.50" x2="1984.00" y2="697.50" stroke="#000" stroke-width="1.5"/>
<text x="1756.7" y="742.8" font-size="28.7" textLength="110.72" lengthAdjust="spacing" fill="#000">P=0.040</text>
<line x1="1765.00" y1="752.50" x2="1869.90" y2="752.50" stroke="#000" stroke-width="1.5"/>
<text x="1883.6" y="742.8" font-size="28.7" textLength="109.82" lengthAdjust="spacing" fill="#000">P=0.025</text>
<line x1="1881.70" y1="752.50" x2="1987.10" y2="752.50" stroke="#000" stroke-width="1.5"/>
<clipPath id="c4"><rect x="1740" y="766" width="324" height="435.5"/></clipPath>
<g clip-path="url(#c4)">
<line x1="1810.50" y1="845.30" x2="1810.50" y2="985.30" stroke="#111" stroke-width="1.2"/>
<line x1="1810.50" y1="1144.00" x2="1810.50" y2="1160.00" stroke="#111" stroke-width="1.2"/>
<rect x="1781.50" y="985.50" width="57.00" height="159.00" fill="#d3d3d3" stroke="#111" stroke-width="1.3"/>
<line x1="1781.60" y1="1090.50" x2="1838.40" y2="1090.50" stroke="#111" stroke-width="1.2"/>
<line x1="1795.40" y1="845.50" x2="1824.60" y2="845.50" stroke="#111" stroke-width="1.2"/>
<line x1="1795.40" y1="1160.50" x2="1824.60" y2="1160.50" stroke="#111" stroke-width="1.2"/>
<circle cx="1809.00" cy="845.30" r="6.4" fill="none" stroke="#000" stroke-width="1.15"/>
<circle cx="1809.00" cy="861.90" r="6.4" fill="none" stroke="#000" stroke-width="1.15"/>
<circle cx="1809.00" cy="932.90" r="6.4" fill="none" stroke="#000" stroke-width="1.15"/>
<circle cx="1809.00" cy="950.20" r="6.4" fill="none" stroke="#000" stroke-width="1.15"/>
<circle cx="1802.00" cy="999.80" r="6.4" fill="none" stroke="#000" stroke-width="1.15"/>
<circle cx="1817.30" cy="997.20" r="6.4" fill="none" stroke="#000" stroke-width="1.15"/>
<circle cx="1802.00" cy="1040.50" r="6.4" fill="none" stroke="#000" stroke-width="1.15"/>
<circle cx="1817.30" cy="1052.80" r="6.4" fill="none" stroke="#000" stroke-width="1.15"/>
<circle cx="1802.00" cy="1057.80" r="6.4" fill="none" stroke="#000" stroke-width="1.15"/>
<circle cx="1794.80" cy="1127.40" r="6.4" fill="none" stroke="#000" stroke-width="1.15"/>
<circle cx="1809.00" cy="1125.70" r="6.4" fill="none" stroke="#000" stroke-width="1.15"/>
<circle cx="1824.20" cy="1122.60" r="6.4" fill="none" stroke="#000" stroke-width="1.15"/>
<circle cx="1787.00" cy="1142.80" r="6.4" fill="none" stroke="#000" stroke-width="1.15"/>
<circle cx="1817.30" cy="1141.60" r="6.4" fill="none" stroke="#000" stroke-width="1.15"/>
<circle cx="1802.00" cy="1151.30" r="6.4" fill="none" stroke="#000" stroke-width="1.15"/>
<circle cx="1832.00" cy="1154.10" r="6.4" fill="none" stroke="#000" stroke-width="1.15"/>
<circle cx="1817.30" cy="1156.50" r="6.4" fill="none" stroke="#000" stroke-width="1.15"/>
<circle cx="1787.00" cy="1160.00" r="6.4" fill="none" stroke="#000" stroke-width="1.15"/>
<line x1="1896.50" y1="1090.90" x2="1896.50" y2="1123.40" stroke="#111" stroke-width="1.2"/>
<line x1="1896.50" y1="1179.50" x2="1896.50" y2="1201.50" stroke="#111" stroke-width="1.2"/>
<rect x="1867.50" y="1123.50" width="58.00" height="56.00" fill="#c9dff5" stroke="#111" stroke-width="1.3"/>
<line x1="1867.50" y1="1152.50" x2="1925.50" y2="1152.50" stroke="#111" stroke-width="1.2"/>
<line x1="1882.00" y1="1090.50" x2="1910.40" y2="1090.50" stroke="#111" stroke-width="1.2"/>
<circle cx="1895.90" cy="1090.20" r="6.4" fill="none" stroke="#000" stroke-width="1.15"/>
<circle cx="1888.80" cy="1108.70" r="6.4" fill="none" stroke="#000" stroke-width="1.15"/>
<circle cx="1873.90" cy="1117.40" r="6.4" fill="none" stroke="#000" stroke-width="1.15"/>
<circle cx="1903.70" cy="1123.80" r="6.4" fill="none" stroke="#000" stroke-width="1.15"/>
<circle cx="1888.80" cy="1128.60" r="6.4" fill="none" stroke="#000" stroke-width="1.15"/>
<circle cx="1903.70" cy="1140.60" r="6.4" fill="none" stroke="#000" stroke-width="1.15"/>
<circle cx="1888.80" cy="1145.10" r="6.4" fill="none" stroke="#000" stroke-width="1.15"/>
<circle cx="1888.80" cy="1160.00" r="6.4" fill="none" stroke="#000" stroke-width="1.15"/>
<circle cx="1919.10" cy="1164.10" r="6.4" fill="none" stroke="#000" stroke-width="1.15"/>
<circle cx="1873.90" cy="1175.40" r="6.4" fill="none" stroke="#000" stroke-width="1.15"/>
<circle cx="1903.70" cy="1178.30" r="6.4" fill="none" stroke="#000" stroke-width="1.15"/>
<circle cx="1888.80" cy="1184.40" r="6.4" fill="none" stroke="#000" stroke-width="1.15"/>
<circle cx="1919.10" cy="1184.90" r="6.4" fill="none" stroke="#000" stroke-width="1.15"/>
<circle cx="1895.90" cy="1200.30" r="6.4" fill="none" stroke="#000" stroke-width="1.15"/>
<line x1="1983.50" y1="771.20" x2="1983.50" y2="1023.20" stroke="#111" stroke-width="1.2"/>
<line x1="1983.50" y1="1127.40" x2="1983.50" y2="1160.50" stroke="#111" stroke-width="1.2"/>
<rect x="1954.50" y="1023.50" width="57.00" height="104.00" fill="#40fc06" stroke="#111" stroke-width="1.3"/>
<line x1="1954.40" y1="1074.50" x2="2011.90" y2="1074.50" stroke="#111" stroke-width="1.2"/>
<line x1="1968.20" y1="771.50" x2="1997.80" y2="771.50" stroke="#111" stroke-width="1.2"/>
<line x1="1968.20" y1="1160.50" x2="1997.80" y2="1160.50" stroke="#111" stroke-width="1.2"/>
<circle cx="1983.00" cy="771.20" r="6.4" fill="none" stroke="#000" stroke-width="1.15"/>
<circle cx="1983.00" cy="794.90" r="6.4" fill="none" stroke="#000" stroke-width="1.15"/>
<circle cx="1983.00" cy="983.70" r="6.4" fill="none" stroke="#000" stroke-width="1.15"/>
<circle cx="1971.70" cy="1022.70" r="6.4" fill="none" stroke="#000" stroke-width="1.15"/>
<circle cx="1994.20" cy="1023.90" r="6.4" fill="none" stroke="#000" stroke-width="1.15"/>
<circle cx="1971.70" cy="1042.40" r="6.4" fill="none" stroke="#000" stroke-width="1.15"/>
<circle cx="1994.20" cy="1039.80" r="6.4" fill="none" stroke="#000" stroke-width="1.15"/>
<circle cx="1983.00" cy="1073.60" r="6.4" fill="none" stroke="#000" stroke-width="1.15"/>
<circle cx="1983.00" cy="1106.80" r="6.4" fill="none" stroke="#000" stroke-width="1.15"/>
<circle cx="1961.00" cy="1122.20" r="6.4" fill="none" stroke="#000" stroke-width="1.15"/>
<circle cx="1983.00" cy="1127.40" r="6.4" fill="none" stroke="#000" stroke-width="1.15"/>
<circle cx="2005.50" cy="1127.40" r="6.4" fill="none" stroke="#000" stroke-width="1.15"/>
<circle cx="1983.00" cy="1141.10" r="6.4" fill="none" stroke="#000" stroke-width="1.15"/>
<circle cx="1994.20" cy="1154.60" r="6.4" fill="none" stroke="#000" stroke-width="1.15"/>
<circle cx="1971.70" cy="1160.00" r="6.4" fill="none" stroke="#000" stroke-width="1.15"/>
</g>
<line x1="374.50" y1="1408.30" x2="374.50" y2="1877.50" stroke="#000" stroke-width="1.3"/>
<line x1="364.80" y1="1460.50" x2="374.40" y2="1460.50" stroke="#000" stroke-width="1.3"/>
<text x="332.5" y="1470.6" font-size="28.7" fill="#000">2</text>
<line x1="364.80" y1="1565.50" x2="374.40" y2="1565.50" stroke="#000" stroke-width="1.3"/>
<text x="332.4" y="1575.3" font-size="28.7" fill="#000">1</text>
<line x1="364.80" y1="1669.50" x2="374.40" y2="1669.50" stroke="#000" stroke-width="1.3"/>
<text x="332.2" y="1679.6" font-size="28.7" fill="#000">0</text>
<line x1="364.80" y1="1774.50" x2="374.40" y2="1774.50" stroke="#000" stroke-width="1.3"/>
<text x="322.8" y="1784.5" font-size="28.7" fill="#000">-1</text>
<line x1="364.80" y1="1877.50" x2="374.40" y2="1877.50" stroke="#000" stroke-width="1.3"/>
<text x="322.9" y="1887.8" font-size="28.7" fill="#000">-2</text>
<line x1="364.80" y1="1877.50" x2="688.30" y2="1877.50" stroke="#000" stroke-width="1.3"/>
<line x1="374.50" y1="1877.50" x2="374.50" y2="1886.00" stroke="#000" stroke-width="1.3"/>
<line x1="570.50" y1="1877.50" x2="570.50" y2="1886.00" stroke="#000" stroke-width="1.3"/>
<text x="366.4" y="1921.5" font-size="28.7" fill="#000">0</text>
<text x="546.1" y="1921.5" font-size="28.7" fill="#000">100</text>
<text x="389.1" y="1967.5" font-size="28.7" textLength="283.10" lengthAdjust="spacing" fill="#000">Li Cortex : Serum (%)</text>
<text transform="translate(295.0,1790.9) rotate(-90)" x="-1.5" y="0" font-size="28.7" textLength="283.19" lengthAdjust="spacing">Complexin 1 (z-score)</text>
<text x="399.5" y="1399.0" font-size="28.7" fill="#000">r=0.40</text>
<text x="399.0" y="1433.6" font-size="28.7" fill="#000">P=0.0049</text>
<circle cx="645.65" cy="1420.22" r="8.0" fill="#8a8a8a" stroke="#000" stroke-width="4.4"/>
<circle cx="548.20" cy="1514.92" r="8.0" fill="#8a8a8a" stroke="#000" stroke-width="4.4"/>
<circle cx="532.01" cy="1539.37" r="8.0" fill="#8a8a8a" stroke="#000" stroke-width="4.4"/>
<circle cx="551.64" cy="1566.57" r="8.0" fill="#8a8a8a" stroke="#000" stroke-width="4.4"/>
<circle cx="455.22" cy="1565.88" r="8.0" fill="#8a8a8a" stroke="#000" stroke-width="4.4"/>
<circle cx="440.76" cy="1582.07" r="8.0" fill="#8a8a8a" stroke="#000" stroke-width="4.4"/>
<circle cx="391.52" cy="1620.98" r="8.0" fill="#8a8a8a" stroke="#000" stroke-width="4.4"/>
<circle cx="411.14" cy="1630.28" r="8.0" fill="#8a8a8a" stroke="#000" stroke-width="4.4"/>
<circle cx="476.91" cy="1608.24" r="8.0" fill="#8a8a8a" stroke="#000" stroke-width="4.4"/>
<circle cx="494.13" cy="1606.52" r="8.0" fill="#8a8a8a" stroke="#000" stroke-width="4.4"/>
<circle cx="499.99" cy="1611.68" r="8.0" fill="#8a8a8a" stroke="#000" stroke-width="4.4"/>
<circle cx="519.61" cy="1605.48" r="8.0" fill="#8a8a8a" stroke="#000" stroke-width="4.4"/>
<circle cx="514.45" cy="1613.06" r="8.0" fill="#8a8a8a" stroke="#000" stroke-width="4.4"/>
<circle cx="463.83" cy="1613.06" r="8.0" fill="#8a8a8a" stroke="#000" stroke-width="4.4"/>
<circle cx="548.88" cy="1611.68" r="8.0" fill="#8a8a8a" stroke="#000" stroke-width="4.4"/>
<circle cx="543.03" cy="1623.39" r="8.0" fill="#8a8a8a" stroke="#000" stroke-width="4.4"/>
<circle cx="463.83" cy="1629.59" r="8.0" fill="#8a8a8a" stroke="#000" stroke-width="4.4"/>
<circle cx="667.00" cy="1614.09" r="8.0" fill="#8a8a8a" stroke="#000" stroke-width="4.4"/>
<circle cx="600.88" cy="1641.64" r="8.0" fill="#8a8a8a" stroke="#000" stroke-width="4.4"/>
<circle cx="434.56" cy="1641.64" r="8.0" fill="#8a8a8a" stroke="#000" stroke-width="4.4"/>
<circle cx="438.00" cy="1648.53" r="8.0" fill="#8a8a8a" stroke="#000" stroke-width="4.4"/>
<circle cx="450.74" cy="1646.80" r="8.0" fill="#8a8a8a" stroke="#000" stroke-width="4.4"/>
<circle cx="407.01" cy="1648.53" r="8.0" fill="#8a8a8a" stroke="#000" stroke-width="4.4"/>
<circle cx="399.09" cy="1655.41" r="8.0" fill="#8a8a8a" stroke="#000" stroke-width="4.4"/>
<circle cx="400.12" cy="1663.33" r="8.0" fill="#8a8a8a" stroke="#000" stroke-width="4.4"/>
<circle cx="401.85" cy="1670.91" r="8.0" fill="#8a8a8a" stroke="#000" stroke-width="4.4"/>
<circle cx="425.95" cy="1669.19" r="8.0" fill="#8a8a8a" stroke="#000" stroke-width="4.4"/>
<circle cx="446.61" cy="1669.19" r="8.0" fill="#8a8a8a" stroke="#000" stroke-width="4.4"/>
<circle cx="465.55" cy="1667.47" r="8.0" fill="#8a8a8a" stroke="#000" stroke-width="4.4"/>
<circle cx="519.61" cy="1668.50" r="8.0" fill="#8a8a8a" stroke="#000" stroke-width="4.4"/>
<circle cx="475.88" cy="1677.80" r="8.0" fill="#8a8a8a" stroke="#000" stroke-width="4.4"/>
<circle cx="463.83" cy="1681.93" r="8.0" fill="#8a8a8a" stroke="#000" stroke-width="4.4"/>
<circle cx="393.24" cy="1679.52" r="8.0" fill="#8a8a8a" stroke="#000" stroke-width="4.4"/>
<circle cx="396.68" cy="1691.57" r="8.0" fill="#8a8a8a" stroke="#000" stroke-width="4.4"/>
<circle cx="436.28" cy="1696.74" r="8.0" fill="#8a8a8a" stroke="#000" stroke-width="4.4"/>
<circle cx="448.33" cy="1700.18" r="8.0" fill="#8a8a8a" stroke="#000" stroke-width="4.4"/>
<circle cx="456.25" cy="1695.01" r="8.0" fill="#8a8a8a" stroke="#000" stroke-width="4.4"/>
<circle cx="538.90" cy="1693.29" r="8.0" fill="#8a8a8a" stroke="#000" stroke-width="4.4"/>
<circle cx="453.50" cy="1731.17" r="8.0" fill="#8a8a8a" stroke="#000" stroke-width="4.4"/>
<circle cx="439.04" cy="1738.06" r="8.0" fill="#8a8a8a" stroke="#000" stroke-width="4.4"/>
<circle cx="433.53" cy="1746.67" r="8.0" fill="#8a8a8a" stroke="#000" stroke-width="4.4"/>
<circle cx="465.55" cy="1739.78" r="8.0" fill="#8a8a8a" stroke="#000" stroke-width="4.4"/>
<circle cx="508.60" cy="1744.26" r="8.0" fill="#8a8a8a" stroke="#000" stroke-width="4.4"/>
<circle cx="600.88" cy="1724.97" r="8.0" fill="#8a8a8a" stroke="#000" stroke-width="4.4"/>
<circle cx="467.27" cy="1774.90" r="8.0" fill="#8a8a8a" stroke="#000" stroke-width="4.4"/>
<line x1="391.5" y1="1688.1" x2="668.7" y2="1572.8" stroke="#f01c16" stroke-width="7.3" stroke-linecap="round"/>
<line x1="932.50" y1="1410.90" x2="932.50" y2="1878.40" stroke="#000" stroke-width="1.3"/>
<line x1="922.90" y1="1461.50" x2="932.30" y2="1461.50" stroke="#000" stroke-width="1.3"/>
<text x="890.8" y="1472.2" font-size="28.7" fill="#000">2</text>
<line x1="922.90" y1="1566.50" x2="932.30" y2="1566.50" stroke="#000" stroke-width="1.3"/>
<text x="890.7" y="1576.9" font-size="28.7" fill="#000">1</text>
<line x1="922.90" y1="1670.50" x2="932.30" y2="1670.50" stroke="#000" stroke-width="1.3"/>
<text x="890.5" y="1680.5" font-size="28.7" fill="#000">0</text>
<line x1="922.90" y1="1774.50" x2="932.30" y2="1774.50" stroke="#000" stroke-width="1.3"/>
<text x="881.1" y="1784.5" font-size="28.7" fill="#000">-1</text>
<line x1="922.90" y1="1878.50" x2="932.30" y2="1878.50" stroke="#000" stroke-width="1.3"/>
<text x="881.2" y="1888.7" font-size="28.7" fill="#000">-2</text>
<line x1="922.90" y1="1878.50" x2="1246.80" y2="1878.50" stroke="#000" stroke-width="1.3"/>
<line x1="932.50" y1="1878.40" x2="932.50" y2="1886.90" stroke="#000" stroke-width="1.3"/>
<line x1="1128.50" y1="1878.40" x2="1128.50" y2="1886.90" stroke="#000" stroke-width="1.3"/>
<text x="924.3" y="1921.5" font-size="28.7" fill="#000">0</text>
<text x="1103.8" y="1921.5" font-size="28.7" fill="#000">100</text>
<text x="955.2" y="1967.5" font-size="28.7" textLength="281.20" lengthAdjust="spacing" fill="#000">Li Cortex : Serum (%)</text>
<text transform="translate(851.4,1790.9) rotate(-90)" x="-1.5" y="0" font-size="28.7" textLength="283.49" lengthAdjust="spacing">Complexin 2 (z-score)</text>
<text x="957.1" y="1399.0" font-size="28.7" fill="#000">r=0.51</text>
<text x="956.6" y="1433.6" font-size="28.7">P=2x10<tspan font-size="19.5" dy="-10.0">-4</tspan></text>
<circle cx="1203.55" cy="1424.70" r="8.0" fill="#8a8a8a" stroke="#000" stroke-width="4.4"/>
<circle cx="1109.55" cy="1529.04" r="8.0" fill="#8a8a8a" stroke="#000" stroke-width="4.4"/>
<circle cx="1104.38" cy="1537.30" r="8.0" fill="#8a8a8a" stroke="#000" stroke-width="4.4"/>
<circle cx="1225.25" cy="1549.35" r="8.0" fill="#8a8a8a" stroke="#000" stroke-width="4.4"/>
<circle cx="999.35" cy="1570.36" r="8.0" fill="#8a8a8a" stroke="#000" stroke-width="4.4"/>
<circle cx="1034.82" cy="1573.46" r="8.0" fill="#8a8a8a" stroke="#000" stroke-width="4.4"/>
<circle cx="984.20" cy="1599.28" r="8.0" fill="#8a8a8a" stroke="#000" stroke-width="4.4"/>
<circle cx="1052.73" cy="1606.52" r="8.0" fill="#8a8a8a" stroke="#000" stroke-width="4.4"/>
<circle cx="969.39" cy="1620.29" r="8.0" fill="#8a8a8a" stroke="#000" stroke-width="4.4"/>
<circle cx="1106.45" cy="1638.20" r="8.0" fill="#8a8a8a" stroke="#000" stroke-width="4.4"/>
<circle cx="1100.94" cy="1650.25" r="8.0" fill="#8a8a8a" stroke="#000" stroke-width="4.4"/>
<circle cx="995.91" cy="1661.27" r="8.0" fill="#8a8a8a" stroke="#000" stroke-width="4.4"/>
<circle cx="1022.77" cy="1662.99" r="8.0" fill="#8a8a8a" stroke="#000" stroke-width="4.4"/>
<circle cx="1022.08" cy="1675.04" r="8.0" fill="#8a8a8a" stroke="#000" stroke-width="4.4"/>
<circle cx="1057.20" cy="1675.04" r="8.0" fill="#8a8a8a" stroke="#000" stroke-width="4.4"/>
<circle cx="1072.70" cy="1670.22" r="8.0" fill="#8a8a8a" stroke="#000" stroke-width="4.4"/>
<circle cx="1076.83" cy="1678.48" r="8.0" fill="#8a8a8a" stroke="#000" stroke-width="4.4"/>
<circle cx="1080.62" cy="1670.91" r="8.0" fill="#8a8a8a" stroke="#000" stroke-width="4.4"/>
<circle cx="1158.79" cy="1663.33" r="8.0" fill="#8a8a8a" stroke="#000" stroke-width="4.4"/>
<circle cx="966.64" cy="1691.57" r="8.0" fill="#8a8a8a" stroke="#000" stroke-width="4.4"/>
<circle cx="959.06" cy="1699.49" r="8.0" fill="#8a8a8a" stroke="#000" stroke-width="4.4"/>
<circle cx="948.73" cy="1711.54" r="8.0" fill="#8a8a8a" stroke="#000" stroke-width="4.4"/>
<circle cx="953.21" cy="1719.12" r="8.0" fill="#8a8a8a" stroke="#000" stroke-width="4.4"/>
<circle cx="958.37" cy="1729.45" r="8.0" fill="#8a8a8a" stroke="#000" stroke-width="4.4"/>
<circle cx="993.50" cy="1707.07" r="8.0" fill="#8a8a8a" stroke="#000" stroke-width="4.4"/>
<circle cx="1011.40" cy="1696.05" r="8.0" fill="#8a8a8a" stroke="#000" stroke-width="4.4"/>
<circle cx="1026.21" cy="1700.18" r="8.0" fill="#8a8a8a" stroke="#000" stroke-width="4.4"/>
<circle cx="1027.25" cy="1704.66" r="8.0" fill="#8a8a8a" stroke="#000" stroke-width="4.4"/>
<circle cx="1008.99" cy="1714.99" r="8.0" fill="#8a8a8a" stroke="#000" stroke-width="4.4"/>
<circle cx="1033.79" cy="1722.56" r="8.0" fill="#8a8a8a" stroke="#000" stroke-width="4.4"/>
<circle cx="993.50" cy="1726.01" r="8.0" fill="#8a8a8a" stroke="#000" stroke-width="4.4"/>
<circle cx="1003.83" cy="1727.04" r="8.0" fill="#8a8a8a" stroke="#000" stroke-width="4.4"/>
<circle cx="1022.77" cy="1733.93" r="8.0" fill="#8a8a8a" stroke="#000" stroke-width="4.4"/>
<circle cx="990.74" cy="1741.50" r="8.0" fill="#8a8a8a" stroke="#000" stroke-width="4.4"/>
<circle cx="1007.27" cy="1745.63" r="8.0" fill="#8a8a8a" stroke="#000" stroke-width="4.4"/>
<circle cx="1023.46" cy="1745.63" r="8.0" fill="#8a8a8a" stroke="#000" stroke-width="4.4"/>
<circle cx="1065.12" cy="1744.94" r="8.0" fill="#8a8a8a" stroke="#000" stroke-width="4.4"/>
<circle cx="1090.61" cy="1731.17" r="8.0" fill="#8a8a8a" stroke="#000" stroke-width="4.4"/>
<circle cx="1158.79" cy="1708.10" r="8.0" fill="#8a8a8a" stroke="#000" stroke-width="4.4"/>
<circle cx="957.34" cy="1758.03" r="8.0" fill="#8a8a8a" stroke="#000" stroke-width="4.4"/>
<circle cx="952.87" cy="1779.38" r="8.0" fill="#8a8a8a" stroke="#000" stroke-width="4.4"/>
<circle cx="1095.77" cy="1763.88" r="8.0" fill="#8a8a8a" stroke="#000" stroke-width="4.4"/>
<circle cx="995.91" cy="1792.12" r="8.0" fill="#8a8a8a" stroke="#000" stroke-width="4.4"/>
<circle cx="1014.16" cy="1798.32" r="8.0" fill="#8a8a8a" stroke="#000" stroke-width="4.4"/>
<circle cx="1023.80" cy="1792.12" r="8.0" fill="#8a8a8a" stroke="#000" stroke-width="4.4"/>
<circle cx="1025.52" cy="1820.70" r="8.0" fill="#8a8a8a" stroke="#000" stroke-width="4.4"/>
<line x1="949.8" y1="1740.8" x2="1226.6" y2="1567.6" stroke="#f01c16" stroke-width="7.3" stroke-linecap="round"/>
<line x1="1529.50" y1="1410.20" x2="1529.50" y2="1877.50" stroke="#000" stroke-width="1.3"/>
<line x1="1520.00" y1="1410.50" x2="1529.40" y2="1410.50" stroke="#000" stroke-width="1.3"/>
<text x="1463.1" y="1420.5" font-size="28.7" fill="#000">2.5</text>
<line x1="1520.00" y1="1527.50" x2="1529.40" y2="1527.50" stroke="#000" stroke-width="1.3"/>
<text x="1463.1" y="1537.3" font-size="28.7" fill="#000">1.5</text>
<line x1="1520.00" y1="1644.50" x2="1529.40" y2="1644.50" stroke="#000" stroke-width="1.3"/>
<text x="1463.1" y="1654.3" font-size="28.7" fill="#000">0.5</text>
<line x1="1520.00" y1="1760.50" x2="1529.40" y2="1760.50" stroke="#000" stroke-width="1.3"/>
<text x="1453.5" y="1770.7" font-size="28.7" fill="#000">-0.5</text>
<line x1="1520.00" y1="1877.50" x2="1529.40" y2="1877.50" stroke="#000" stroke-width="1.3"/>
<text x="1453.5" y="1887.8" font-size="28.7" fill="#000">-1.5</text>
<line x1="1520.00" y1="1877.50" x2="1819.70" y2="1877.50" stroke="#000" stroke-width="1.3"/>
<line x1="1529.50" y1="1877.50" x2="1529.50" y2="1886.00" stroke="#000" stroke-width="1.3"/>
<line x1="1710.50" y1="1877.50" x2="1710.50" y2="1886.00" stroke="#000" stroke-width="1.3"/>
<text x="1521.5" y="1921.5" font-size="28.7" fill="#000">0</text>
<text x="1685.8" y="1921.5" font-size="28.7" fill="#000">100</text>
<text x="1549.4" y="1967.5" font-size="28.7" textLength="283.10" lengthAdjust="spacing" fill="#000">Li Cortex : Serum (%)</text>
<text transform="translate(1422.8,1790.8) rotate(-90)" x="-1.5" y="0" font-size="28.7" textLength="307.83" lengthAdjust="spacing">Complexin 1/2 (z-score)</text>
<text x="1553.3" y="1399.0" font-size="28.7" fill="#000">r=0.49</text>
<text x="1552.8" y="1433.6" font-size="28.7">P=4x10<tspan font-size="19.5" dy="-10.0">-4</tspan></text>
<circle cx="1780.08" cy="1425.73" r="8.0" fill="#8a8a8a" stroke="#000" stroke-width="4.4"/>
<circle cx="1690.21" cy="1541.09" r="8.0" fill="#8a8a8a" stroke="#000" stroke-width="4.4"/>
<circle cx="1693.65" cy="1566.57" r="8.0" fill="#8a8a8a" stroke="#000" stroke-width="4.4"/>
<circle cx="1592.07" cy="1597.56" r="8.0" fill="#8a8a8a" stroke="#000" stroke-width="4.4"/>
<circle cx="1800.74" cy="1604.45" r="8.0" fill="#8a8a8a" stroke="#000" stroke-width="4.4"/>
<circle cx="1624.78" cy="1614.09" r="8.0" fill="#8a8a8a" stroke="#000" stroke-width="4.4"/>
<circle cx="1642.00" cy="1633.03" r="8.0" fill="#8a8a8a" stroke="#000" stroke-width="4.4"/>
<circle cx="1564.52" cy="1652.66" r="8.0" fill="#8a8a8a" stroke="#000" stroke-width="4.4"/>
<circle cx="1577.60" cy="1662.99" r="8.0" fill="#8a8a8a" stroke="#000" stroke-width="4.4"/>
<circle cx="1604.12" cy="1659.89" r="8.0" fill="#8a8a8a" stroke="#000" stroke-width="4.4"/>
<circle cx="1691.93" cy="1653.00" r="8.0" fill="#8a8a8a" stroke="#000" stroke-width="4.4"/>
<circle cx="1686.07" cy="1664.02" r="8.0" fill="#8a8a8a" stroke="#000" stroke-width="4.4"/>
<circle cx="1676.43" cy="1662.99" r="8.0" fill="#8a8a8a" stroke="#000" stroke-width="4.4"/>
<circle cx="1660.94" cy="1670.22" r="8.0" fill="#8a8a8a" stroke="#000" stroke-width="4.4"/>
<circle cx="1644.75" cy="1673.32" r="8.0" fill="#8a8a8a" stroke="#000" stroke-width="4.4"/>
<circle cx="1613.07" cy="1682.96" r="8.0" fill="#8a8a8a" stroke="#000" stroke-width="4.4"/>
<circle cx="1739.45" cy="1682.96" r="8.0" fill="#8a8a8a" stroke="#000" stroke-width="4.4"/>
<circle cx="1546.61" cy="1699.49" r="8.0" fill="#8a8a8a" stroke="#000" stroke-width="4.4"/>
<circle cx="1561.42" cy="1703.62" r="8.0" fill="#8a8a8a" stroke="#000" stroke-width="4.4"/>
<circle cx="1612.04" cy="1704.66" r="8.0" fill="#8a8a8a" stroke="#000" stroke-width="4.4"/>
<circle cx="1664.38" cy="1701.90" r="8.0" fill="#8a8a8a" stroke="#000" stroke-width="4.4"/>
<circle cx="1586.21" cy="1711.20" r="8.0" fill="#8a8a8a" stroke="#000" stroke-width="4.4"/>
<circle cx="1585.18" cy="1719.12" r="8.0" fill="#8a8a8a" stroke="#000" stroke-width="4.4"/>
<circle cx="1555.22" cy="1717.40" r="8.0" fill="#8a8a8a" stroke="#000" stroke-width="4.4"/>
<circle cx="1600.67" cy="1715.67" r="8.0" fill="#8a8a8a" stroke="#000" stroke-width="4.4"/>
<circle cx="1617.20" cy="1716.71" r="8.0" fill="#8a8a8a" stroke="#000" stroke-width="4.4"/>
<circle cx="1594.82" cy="1734.61" r="8.0" fill="#8a8a8a" stroke="#000" stroke-width="4.4"/>
<circle cx="1623.40" cy="1737.02" r="8.0" fill="#8a8a8a" stroke="#000" stroke-width="4.4"/>
<circle cx="1549.02" cy="1741.50" r="8.0" fill="#8a8a8a" stroke="#000" stroke-width="4.4"/>
<circle cx="1554.53" cy="1738.75" r="8.0" fill="#8a8a8a" stroke="#000" stroke-width="4.4"/>
<circle cx="1603.43" cy="1758.72" r="8.0" fill="#8a8a8a" stroke="#000" stroke-width="4.4"/>
<circle cx="1599.99" cy="1762.16" r="8.0" fill="#8a8a8a" stroke="#000" stroke-width="4.4"/>
<circle cx="1613.76" cy="1770.08" r="8.0" fill="#8a8a8a" stroke="#000" stroke-width="4.4"/>
<circle cx="1680.91" cy="1768.36" r="8.0" fill="#8a8a8a" stroke="#000" stroke-width="4.4"/>
<circle cx="1739.45" cy="1755.28" r="8.0" fill="#8a8a8a" stroke="#000" stroke-width="4.4"/>
<circle cx="1549.02" cy="1769.74" r="8.0" fill="#8a8a8a" stroke="#000" stroke-width="4.4"/>
<circle cx="1585.52" cy="1786.27" r="8.0" fill="#8a8a8a" stroke="#000" stroke-width="4.4"/>
<circle cx="1605.15" cy="1789.71" r="8.0" fill="#8a8a8a" stroke="#000" stroke-width="4.4"/>
<circle cx="1615.48" cy="1783.86" r="8.0" fill="#8a8a8a" stroke="#000" stroke-width="4.4"/>
<circle cx="1615.48" cy="1779.38" r="8.0" fill="#8a8a8a" stroke="#000" stroke-width="4.4"/>
<circle cx="1654.05" cy="1786.27" r="8.0" fill="#8a8a8a" stroke="#000" stroke-width="4.4"/>
<circle cx="1589.66" cy="1810.37" r="8.0" fill="#8a8a8a" stroke="#000" stroke-width="4.4"/>
<circle cx="1616.17" cy="1845.84" r="8.0" fill="#8a8a8a" stroke="#000" stroke-width="4.4"/>
<line x1="1545.6" y1="1752.9" x2="1801.4" y2="1591.7" stroke="#f01c16" stroke-width="7.3" stroke-linecap="round"/>
</svg>
</body></html>
